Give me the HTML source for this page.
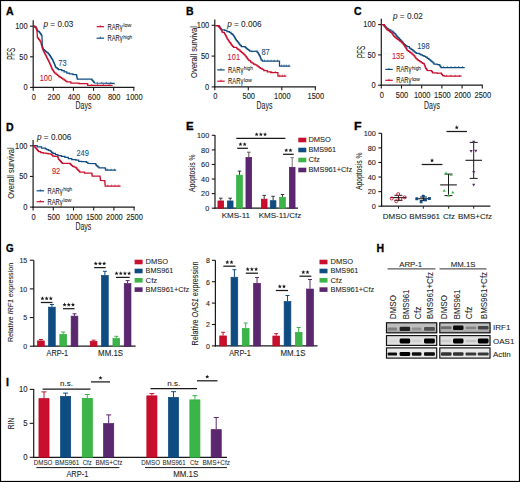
<!DOCTYPE html>
<html><head><meta charset="utf-8"><style>
html,body{margin:0;padding:0;background:#fff;}
svg{display:block;}
text{font-family:"Liberation Sans",sans-serif;}
</style></head><body>
<svg width="520" height="482" viewBox="0 0 520 482">
<rect x="0" y="0" width="520" height="482" fill="#fff"/>
<text x="6.00" y="14.50" font-size="10.5" font-weight="bold" textLength="7.6" lengthAdjust="spacingAndGlyphs" fill="#000" stroke="#000" stroke-width="0.3">A</text>
<line x1="33.20" y1="20.30" x2="33.20" y2="88.00" stroke="#1a1a1a" stroke-width="1.2"/>
<line x1="32.60" y1="87.40" x2="134.40" y2="87.40" stroke="#1a1a1a" stroke-width="1.2"/>
<line x1="30.00" y1="26.20" x2="33.20" y2="26.20" stroke="#1a1a1a" stroke-width="1.1"/>
<text x="27.60" y="28.90" font-size="8.3" text-anchor="end" textLength="12.45" lengthAdjust="spacingAndGlyphs" fill="#1a1a1a" stroke="#1a1a1a" stroke-width="0.1">100</text>
<line x1="30.00" y1="56.80" x2="33.20" y2="56.80" stroke="#1a1a1a" stroke-width="1.1"/>
<text x="27.60" y="59.50" font-size="8.3" text-anchor="end" textLength="8.3" lengthAdjust="spacingAndGlyphs" fill="#1a1a1a" stroke="#1a1a1a" stroke-width="0.1">50</text>
<line x1="30.00" y1="87.40" x2="33.20" y2="87.40" stroke="#1a1a1a" stroke-width="1.1"/>
<text x="27.60" y="90.10" font-size="8.3" text-anchor="end" textLength="4.15" lengthAdjust="spacingAndGlyphs" fill="#1a1a1a" stroke="#1a1a1a" stroke-width="0.1">0</text>
<line x1="33.20" y1="87.40" x2="33.20" y2="90.80" stroke="#1a1a1a" stroke-width="1.1"/>
<text x="33.70" y="99.80" font-size="8.3" text-anchor="middle" textLength="4.15" lengthAdjust="spacingAndGlyphs" fill="#1a1a1a" stroke="#1a1a1a" stroke-width="0.1">0</text>
<line x1="53.32" y1="87.40" x2="53.32" y2="90.80" stroke="#1a1a1a" stroke-width="1.1"/>
<text x="53.82" y="99.80" font-size="8.3" text-anchor="middle" textLength="12.45" lengthAdjust="spacingAndGlyphs" fill="#1a1a1a" stroke="#1a1a1a" stroke-width="0.1">200</text>
<line x1="73.44" y1="87.40" x2="73.44" y2="90.80" stroke="#1a1a1a" stroke-width="1.1"/>
<text x="73.94" y="99.80" font-size="8.3" text-anchor="middle" textLength="12.45" lengthAdjust="spacingAndGlyphs" fill="#1a1a1a" stroke="#1a1a1a" stroke-width="0.1">400</text>
<line x1="93.56" y1="87.40" x2="93.56" y2="90.80" stroke="#1a1a1a" stroke-width="1.1"/>
<text x="94.06" y="99.80" font-size="8.3" text-anchor="middle" textLength="12.45" lengthAdjust="spacingAndGlyphs" fill="#1a1a1a" stroke="#1a1a1a" stroke-width="0.1">600</text>
<line x1="113.68" y1="87.40" x2="113.68" y2="90.80" stroke="#1a1a1a" stroke-width="1.1"/>
<text x="114.18" y="99.80" font-size="8.3" text-anchor="middle" textLength="12.45" lengthAdjust="spacingAndGlyphs" fill="#1a1a1a" stroke="#1a1a1a" stroke-width="0.1">800</text>
<line x1="133.80" y1="87.40" x2="133.80" y2="90.80" stroke="#1a1a1a" stroke-width="1.1"/>
<text x="134.30" y="99.80" font-size="8.3" text-anchor="middle" textLength="16.6" lengthAdjust="spacingAndGlyphs" fill="#1a1a1a" stroke="#1a1a1a" stroke-width="0.1">1000</text>
<text x="83.50" y="108.50" font-size="10" text-anchor="middle" textLength="15.8" lengthAdjust="spacingAndGlyphs" fill="#1a1a1a" stroke="#1a1a1a" stroke-width="0.08">Days</text>
<text x="14.60" y="53.80" font-size="10" text-anchor="middle" textLength="12" lengthAdjust="spacingAndGlyphs" transform="rotate(-90 14.60 53.80)" fill="#1a1a1a" stroke="#1a1a1a" stroke-width="0.08">PFS</text>
<polyline points="33.30,26.20 34.70,26.20 34.70,27.20 36.10,27.20 36.10,28.20 36.63,28.20 36.63,29.23 37.17,29.23 37.17,30.27 37.70,30.27 37.70,31.30 39.30,31.30 39.30,32.40 40.05,32.40 40.05,33.40 40.80,33.40 40.80,34.40 41.35,34.40 41.35,35.45 41.90,35.45 41.90,36.50 41.95,36.50 41.95,37.53 42.00,37.53 42.00,38.57 42.05,38.57 42.05,39.60 42.10,39.60 42.10,40.63 42.15,40.63 42.15,41.67 42.20,41.67 42.20,42.70 42.40,46.90 42.73,46.90 42.73,47.77 43.07,47.77 43.07,48.63 43.40,48.63 43.40,49.50 44.45,49.50 44.45,50.55 45.50,50.55 45.50,51.60 46.80,51.60 46.80,52.60 48.10,52.60 48.10,53.60 48.87,53.60 48.87,54.57 49.63,54.57 49.63,55.53 50.40,55.53 50.40,56.50 50.92,56.50 50.92,57.38 51.45,57.38 51.45,58.25 51.98,58.25 51.98,59.12 52.50,59.12 52.50,60.00 53.00,60.00 53.00,61.12 53.50,61.12 53.50,62.25 54.00,62.25 54.00,63.38 54.50,63.38 54.50,64.50 54.93,64.50 54.93,65.50 55.37,65.50 55.37,66.50 55.80,66.50 55.80,67.50 57.05,67.50 57.05,68.55 58.30,68.55 58.30,69.60 61.80,69.60 61.80,70.70 64.20,70.70 64.20,71.80 66.80,71.80 66.80,73.20 69.50,73.20 69.50,73.80 72.90,73.80 72.90,74.50 76.30,74.50 76.50,74.50 76.50,75.44 76.70,75.44 76.70,76.38 76.90,76.38 76.90,77.32 77.10,77.32 77.10,78.26 77.30,78.26 77.30,79.20 91.10,79.20 91.92,79.20 91.92,80.15 92.75,80.15 92.75,81.10 93.58,81.10 93.58,82.05 94.40,82.05 94.40,83.00 113.30,83.30 114.00,83.30 114.00,84.30" fill="none" stroke="#0e4c82" stroke-width="1.25" stroke-linejoin="miter"/>
<polyline points="33.30,26.20 34.60,26.20 34.60,26.95 35.90,26.95 35.90,27.70 36.17,27.70 36.17,28.60 36.45,28.60 36.45,29.50 36.73,29.50 36.73,30.40 37.00,30.40 37.00,31.30 37.07,31.30 37.07,32.35 37.13,32.35 37.13,33.40 37.20,33.40 37.20,34.45 37.27,34.45 37.27,35.50 37.33,35.50 37.33,36.55 37.40,36.55 37.40,37.60 38.03,37.60 38.03,38.47 38.67,38.47 38.67,39.33 39.30,39.33 39.30,40.20 40.05,40.20 40.05,41.45 40.80,41.45 40.80,42.70 41.07,42.70 41.07,43.67 41.33,43.67 41.33,44.63 41.60,44.63 41.60,45.60 41.87,45.60 41.87,46.57 42.13,46.57 42.13,47.53 42.40,47.53 42.40,48.50 42.90,48.50 42.90,49.75 43.40,49.75 43.40,51.00 43.92,51.00 43.92,52.05 44.45,52.05 44.45,53.10 44.98,53.10 44.98,54.15 45.50,54.15 45.50,55.20 46.02,55.20 46.02,56.23 46.55,56.23 46.55,57.25 47.08,57.25 47.08,58.27 47.60,58.27 47.60,59.30 48.13,59.30 48.13,60.37 48.67,60.37 48.67,61.43 49.20,61.43 49.20,62.50 49.67,62.50 49.67,63.50 50.13,63.50 50.13,64.50 50.60,64.50 50.60,65.50 51.00,65.50 51.00,66.50 51.40,66.50 51.40,67.50 51.80,67.50 51.80,68.50 52.20,68.50 52.20,69.50 52.83,69.50 52.83,70.42 53.45,70.42 53.45,71.35 54.08,71.35 54.08,72.28 54.70,72.28 54.70,73.20 56.07,73.20 56.07,74.30 57.43,74.30 57.43,75.40 58.80,75.40 58.80,76.50 60.13,76.50 60.13,77.40 61.47,77.40 61.47,78.30 62.80,78.30 62.80,79.20 64.13,79.20 64.13,80.10 65.47,80.10 65.47,81.00 66.80,81.00 66.80,81.90 70.90,81.90 70.90,83.00 79.00,83.00 79.00,83.50 87.00,83.50 87.00,83.90 87.70,83.90 87.70,85.30 112.60,85.30" fill="none" stroke="#c8102e" stroke-width="1.25" stroke-linejoin="miter"/>
<line x1="96.60" y1="26.70" x2="104.10" y2="26.70" stroke="#c8102e" stroke-width="1.2"/>
<line x1="100.30" y1="25.20" x2="100.30" y2="27.20" stroke="#c8102e" stroke-width="0.8"/>
<text x="107.50" y="29.60" font-size="8.6" textLength="15.2" lengthAdjust="spacingAndGlyphs" fill="#1a1a1a" stroke="#1a1a1a" stroke-width="0.08">RAR&#947;</text>
<text x="123.20" y="27.20" font-size="5" textLength="8.1" lengthAdjust="spacingAndGlyphs" fill="#1a1a1a" stroke="#1a1a1a" stroke-width="0.05">low</text>
<line x1="96.60" y1="38.20" x2="104.10" y2="38.20" stroke="#0e4c82" stroke-width="1.2"/>
<line x1="100.30" y1="36.70" x2="100.30" y2="38.70" stroke="#0e4c82" stroke-width="0.8"/>
<text x="107.50" y="41.10" font-size="8.6" textLength="15.2" lengthAdjust="spacingAndGlyphs" fill="#1a1a1a" stroke="#1a1a1a" stroke-width="0.08">RAR&#947;</text>
<text x="123.20" y="38.70" font-size="5" textLength="9.1" lengthAdjust="spacingAndGlyphs" fill="#1a1a1a" stroke="#1a1a1a" stroke-width="0.05">high</text>
<text x="43.50" y="27.30" font-size="8.2" fill="#1a1a1a" stroke="#1a1a1a" stroke-width="0.06"><tspan font-style="italic">p</tspan> = 0.03</text>
<text x="58.30" y="65.60" font-size="8.7" textLength="8.3" lengthAdjust="spacingAndGlyphs" fill="#0e4c82" stroke="#0e4c82" stroke-width="0.08">73</text>
<text x="39.70" y="80.50" font-size="8.7" textLength="12.45" lengthAdjust="spacingAndGlyphs" fill="#c8102e" stroke="#c8102e" stroke-width="0.08">100</text>
<text x="186.00" y="14.50" font-size="10.5" font-weight="bold" textLength="7.6" lengthAdjust="spacingAndGlyphs" fill="#000" stroke="#000" stroke-width="0.3">B</text>
<line x1="214.80" y1="19.50" x2="214.80" y2="87.50" stroke="#1a1a1a" stroke-width="1.2"/>
<line x1="214.20" y1="86.90" x2="315.90" y2="86.90" stroke="#1a1a1a" stroke-width="1.2"/>
<line x1="211.60" y1="25.30" x2="214.80" y2="25.30" stroke="#1a1a1a" stroke-width="1.1"/>
<text x="209.20" y="28.00" font-size="8.3" text-anchor="end" textLength="12.45" lengthAdjust="spacingAndGlyphs" fill="#1a1a1a" stroke="#1a1a1a" stroke-width="0.1">100</text>
<line x1="211.60" y1="56.10" x2="214.80" y2="56.10" stroke="#1a1a1a" stroke-width="1.1"/>
<text x="209.20" y="58.80" font-size="8.3" text-anchor="end" textLength="8.3" lengthAdjust="spacingAndGlyphs" fill="#1a1a1a" stroke="#1a1a1a" stroke-width="0.1">50</text>
<line x1="211.60" y1="86.90" x2="214.80" y2="86.90" stroke="#1a1a1a" stroke-width="1.1"/>
<text x="209.20" y="89.60" font-size="8.3" text-anchor="end" textLength="4.15" lengthAdjust="spacingAndGlyphs" fill="#1a1a1a" stroke="#1a1a1a" stroke-width="0.1">0</text>
<line x1="214.80" y1="86.90" x2="214.80" y2="90.30" stroke="#1a1a1a" stroke-width="1.1"/>
<text x="215.30" y="99.30" font-size="8.3" text-anchor="middle" textLength="4.15" lengthAdjust="spacingAndGlyphs" fill="#1a1a1a" stroke="#1a1a1a" stroke-width="0.1">0</text>
<line x1="248.30" y1="86.90" x2="248.30" y2="90.30" stroke="#1a1a1a" stroke-width="1.1"/>
<text x="248.80" y="99.30" font-size="8.3" text-anchor="middle" textLength="12.45" lengthAdjust="spacingAndGlyphs" fill="#1a1a1a" stroke="#1a1a1a" stroke-width="0.1">500</text>
<line x1="281.80" y1="86.90" x2="281.80" y2="90.30" stroke="#1a1a1a" stroke-width="1.1"/>
<text x="282.30" y="99.30" font-size="8.3" text-anchor="middle" textLength="16.6" lengthAdjust="spacingAndGlyphs" fill="#1a1a1a" stroke="#1a1a1a" stroke-width="0.1">1000</text>
<line x1="315.30" y1="86.90" x2="315.30" y2="90.30" stroke="#1a1a1a" stroke-width="1.1"/>
<text x="315.80" y="99.30" font-size="8.3" text-anchor="middle" textLength="16.6" lengthAdjust="spacingAndGlyphs" fill="#1a1a1a" stroke="#1a1a1a" stroke-width="0.1">1500</text>
<text x="264.50" y="108.50" font-size="10" text-anchor="middle" textLength="15.8" lengthAdjust="spacingAndGlyphs" fill="#1a1a1a" stroke="#1a1a1a" stroke-width="0.08">Days</text>
<text x="197.30" y="52.00" font-size="9.5" text-anchor="middle" textLength="52" lengthAdjust="spacingAndGlyphs" transform="rotate(-90 197.30 52.00)" fill="#1a1a1a" stroke="#1a1a1a" stroke-width="0.08">Overall survival</text>
<polyline points="215.20,25.50 218.60,25.50 219.13,25.50 219.13,26.40 219.67,26.40 219.67,27.30 220.20,27.30 220.20,28.20 220.85,28.20 220.85,29.05 221.50,29.05 221.50,29.90 224.80,29.90 224.80,30.30 226.90,30.30 226.90,31.50 229.40,31.50 229.40,32.40 231.00,32.40 231.00,33.60 232.05,33.60 232.05,34.45 233.10,34.45 233.10,35.30 233.90,35.30 233.90,36.55 234.70,36.55 234.70,37.80 235.27,37.80 235.27,38.77 235.83,38.77 235.83,39.73 236.40,39.73 236.40,40.70 237.25,40.70 237.25,41.70 238.10,41.70 238.10,42.70 238.90,42.70 238.90,43.75 239.70,43.75 239.70,44.80 240.55,44.80 240.55,45.65 241.40,45.65 241.40,46.50 243.50,46.50 245.10,46.50 245.10,47.30 246.15,47.30 246.15,48.35 247.20,48.35 247.20,49.40 248.45,49.40 248.45,50.20 249.70,50.20 249.70,51.00 251.80,51.00 251.80,51.50 256.10,51.20 257.15,51.20 257.15,52.45 258.20,52.45 258.20,53.70 258.80,53.70 258.80,54.70 259.40,54.70 259.40,55.70 260.00,55.70 260.00,56.70 260.40,56.70 260.40,57.83 260.80,57.83 260.80,58.97 261.20,58.97 261.20,60.10 262.50,60.10 262.50,61.10 279.50,61.10 279.50,66.00 290.20,66.00" fill="none" stroke="#0e4c82" stroke-width="1.25" stroke-linejoin="miter"/>
<polyline points="215.20,25.50 217.30,25.50 218.15,25.50 218.15,26.45 219.00,26.45 219.00,27.40 220.05,27.40 220.05,28.65 221.10,28.65 221.10,29.90 221.70,29.90 221.70,31.15 222.30,31.15 222.30,32.40 224.40,32.40 224.40,33.60 225.00,33.60 225.00,34.65 225.60,34.65 225.60,35.70 226.17,35.70 226.17,36.80 226.73,36.80 226.73,37.90 227.30,37.90 227.30,39.00 227.93,39.00 227.93,39.92 228.55,39.92 228.55,40.85 229.18,40.85 229.18,41.78 229.80,41.78 229.80,42.70 230.60,42.70 230.60,43.95 231.40,43.95 231.40,45.20 232.45,45.20 232.45,46.25 233.50,46.25 233.50,47.30 236.80,47.30 236.80,48.60 237.85,48.60 237.85,49.40 238.90,49.40 238.90,50.20 240.15,50.20 240.15,51.25 241.40,51.25 241.40,52.30 242.45,52.30 242.45,53.15 243.50,53.15 243.50,54.00 244.33,54.00 244.33,54.97 245.17,54.97 245.17,55.93 246.00,55.93 246.00,56.90 246.72,56.90 246.72,57.83 247.45,57.83 247.45,58.75 248.18,58.75 248.18,59.67 248.90,59.67 248.90,60.60 250.50,60.60 250.50,62.00 252.00,62.00 252.00,63.00 253.50,63.00 253.50,64.00 255.20,64.00 255.20,64.90 256.90,64.90 256.90,65.80 258.07,65.80 258.07,66.67 259.23,66.67 259.23,67.53 260.40,67.53 260.40,68.40 262.10,68.40 262.10,69.45 263.80,69.45 263.80,70.50 267.30,70.50 267.30,71.80 270.80,71.80 270.80,72.50 277.90,72.50 277.90,76.00 286.30,76.00" fill="none" stroke="#c8102e" stroke-width="1.25" stroke-linejoin="miter"/>
<line x1="217.20" y1="69.90" x2="224.70" y2="69.90" stroke="#0e4c82" stroke-width="1.2"/>
<line x1="220.90" y1="68.40" x2="220.90" y2="70.40" stroke="#0e4c82" stroke-width="0.8"/>
<text x="228.10" y="72.80" font-size="8.6" textLength="15.2" lengthAdjust="spacingAndGlyphs" fill="#1a1a1a" stroke="#1a1a1a" stroke-width="0.08">RAR&#947;</text>
<text x="243.80" y="70.40" font-size="5" textLength="9.1" lengthAdjust="spacingAndGlyphs" fill="#1a1a1a" stroke="#1a1a1a" stroke-width="0.05">high</text>
<line x1="217.20" y1="81.20" x2="224.70" y2="81.20" stroke="#c8102e" stroke-width="1.2"/>
<line x1="220.90" y1="79.70" x2="220.90" y2="81.70" stroke="#c8102e" stroke-width="0.8"/>
<text x="228.10" y="84.10" font-size="8.6" textLength="15.2" lengthAdjust="spacingAndGlyphs" fill="#1a1a1a" stroke="#1a1a1a" stroke-width="0.08">RAR&#947;</text>
<text x="243.80" y="81.70" font-size="5" textLength="8.1" lengthAdjust="spacingAndGlyphs" fill="#1a1a1a" stroke="#1a1a1a" stroke-width="0.05">low</text>
<text x="227.20" y="27.00" font-size="8.2" fill="#1a1a1a" stroke="#1a1a1a" stroke-width="0.06"><tspan font-style="italic">p</tspan> = 0.006</text>
<text x="261.40" y="55.40" font-size="8.7" textLength="8.3" lengthAdjust="spacingAndGlyphs" fill="#0e4c82" stroke="#0e4c82" stroke-width="0.08">87</text>
<text x="227.60" y="60.10" font-size="8.7" textLength="12.45" lengthAdjust="spacingAndGlyphs" fill="#c8102e" stroke="#c8102e" stroke-width="0.08">101</text>
<text x="354.00" y="14.50" font-size="10.5" font-weight="bold" textLength="7.6" lengthAdjust="spacingAndGlyphs" fill="#000" stroke="#000" stroke-width="0.3">C</text>
<line x1="381.30" y1="18.80" x2="381.30" y2="85.80" stroke="#1a1a1a" stroke-width="1.2"/>
<line x1="380.70" y1="85.20" x2="482.90" y2="85.20" stroke="#1a1a1a" stroke-width="1.2"/>
<line x1="378.10" y1="24.60" x2="381.30" y2="24.60" stroke="#1a1a1a" stroke-width="1.1"/>
<text x="375.70" y="27.30" font-size="8.3" text-anchor="end" textLength="12.45" lengthAdjust="spacingAndGlyphs" fill="#1a1a1a" stroke="#1a1a1a" stroke-width="0.1">100</text>
<line x1="378.10" y1="54.90" x2="381.30" y2="54.90" stroke="#1a1a1a" stroke-width="1.1"/>
<text x="375.70" y="57.60" font-size="8.3" text-anchor="end" textLength="8.3" lengthAdjust="spacingAndGlyphs" fill="#1a1a1a" stroke="#1a1a1a" stroke-width="0.1">50</text>
<line x1="378.10" y1="85.20" x2="381.30" y2="85.20" stroke="#1a1a1a" stroke-width="1.1"/>
<text x="375.70" y="87.90" font-size="8.3" text-anchor="end" textLength="4.15" lengthAdjust="spacingAndGlyphs" fill="#1a1a1a" stroke="#1a1a1a" stroke-width="0.1">0</text>
<line x1="381.30" y1="85.20" x2="381.30" y2="88.60" stroke="#1a1a1a" stroke-width="1.1"/>
<text x="381.80" y="97.60" font-size="8.3" text-anchor="middle" textLength="4.15" lengthAdjust="spacingAndGlyphs" fill="#1a1a1a" stroke="#1a1a1a" stroke-width="0.1">0</text>
<line x1="401.50" y1="85.20" x2="401.50" y2="88.60" stroke="#1a1a1a" stroke-width="1.1"/>
<text x="402.00" y="97.60" font-size="8.3" text-anchor="middle" textLength="12.45" lengthAdjust="spacingAndGlyphs" fill="#1a1a1a" stroke="#1a1a1a" stroke-width="0.1">500</text>
<line x1="421.70" y1="85.20" x2="421.70" y2="88.60" stroke="#1a1a1a" stroke-width="1.1"/>
<text x="422.20" y="97.60" font-size="8.3" text-anchor="middle" textLength="16.6" lengthAdjust="spacingAndGlyphs" fill="#1a1a1a" stroke="#1a1a1a" stroke-width="0.1">1000</text>
<line x1="441.90" y1="85.20" x2="441.90" y2="88.60" stroke="#1a1a1a" stroke-width="1.1"/>
<text x="442.40" y="97.60" font-size="8.3" text-anchor="middle" textLength="16.6" lengthAdjust="spacingAndGlyphs" fill="#1a1a1a" stroke="#1a1a1a" stroke-width="0.1">1500</text>
<line x1="462.10" y1="85.20" x2="462.10" y2="88.60" stroke="#1a1a1a" stroke-width="1.1"/>
<text x="462.60" y="97.60" font-size="8.3" text-anchor="middle" textLength="16.6" lengthAdjust="spacingAndGlyphs" fill="#1a1a1a" stroke="#1a1a1a" stroke-width="0.1">2000</text>
<line x1="482.30" y1="85.20" x2="482.30" y2="88.60" stroke="#1a1a1a" stroke-width="1.1"/>
<text x="482.80" y="97.60" font-size="8.3" text-anchor="middle" textLength="16.6" lengthAdjust="spacingAndGlyphs" fill="#1a1a1a" stroke="#1a1a1a" stroke-width="0.1">2500</text>
<text x="432.00" y="108.50" font-size="10" text-anchor="middle" textLength="15.8" lengthAdjust="spacingAndGlyphs" fill="#1a1a1a" stroke="#1a1a1a" stroke-width="0.08">Days</text>
<text x="365.00" y="51.90" font-size="10" text-anchor="middle" textLength="12" lengthAdjust="spacingAndGlyphs" transform="rotate(-90 365.00 51.90)" fill="#1a1a1a" stroke="#1a1a1a" stroke-width="0.08">PFS</text>
<polyline points="381.70,24.60 383.90,24.60 383.90,25.90 385.20,25.90 385.20,27.00 386.50,27.00 386.50,28.10 387.60,28.10 387.60,28.95 388.70,28.95 388.70,29.80 390.80,29.80 390.80,31.10 393.00,31.10 393.00,32.40 394.05,32.40 394.05,33.25 395.10,33.25 395.10,34.10 395.83,34.10 395.83,35.10 396.57,35.10 396.57,36.10 397.30,36.10 397.30,37.10 398.40,37.10 398.40,38.20 399.50,38.20 399.50,39.30 400.37,39.30 400.37,40.17 401.23,40.17 401.23,41.03 402.10,41.03 402.10,41.90 402.80,41.90 402.80,42.77 403.50,42.77 403.50,43.63 404.20,43.63 404.20,44.50 405.50,44.50 405.50,45.60 406.80,45.60 406.80,46.70 409.40,46.70 409.40,48.00 410.50,48.00 410.50,48.85 411.60,48.85 411.60,49.70 412.90,49.70 412.90,50.75 414.20,50.75 414.20,51.80 415.25,51.80 415.25,52.55 416.30,52.55 416.30,53.30 419.20,53.30 419.20,54.00 420.80,54.00 420.80,54.80 422.40,54.80 422.40,55.60 424.00,55.60 424.00,56.40 425.60,56.40 425.60,57.20 427.20,57.20 427.20,58.25 428.80,58.25 428.80,59.30 429.83,59.30 429.83,60.17 430.87,60.17 430.87,61.03 431.90,61.03 431.90,61.90 432.95,61.90 432.95,62.95 434.00,62.95 434.00,64.00 437.20,64.00 437.20,64.60 439.30,64.60 439.30,65.10 440.10,65.10 440.10,66.35 440.90,66.35 440.90,67.60 464.70,67.60" fill="none" stroke="#0e4c82" stroke-width="1.25" stroke-linejoin="miter"/>
<polyline points="381.70,24.60 384.30,24.60 384.30,25.90 384.95,25.90 384.95,26.88 385.60,26.88 385.60,27.85 386.25,27.85 386.25,28.82 386.90,28.82 386.90,29.80 388.20,29.80 388.20,30.65 389.50,30.65 389.50,31.50 390.60,31.50 390.60,32.35 391.70,32.35 391.70,33.20 392.40,33.20 392.40,34.23 393.10,34.23 393.10,35.27 393.80,35.27 393.80,36.30 394.90,36.30 394.90,37.35 396.00,37.35 396.00,38.40 397.30,38.40 397.30,39.30 398.60,39.30 398.60,40.20 399.70,40.20 399.70,41.05 400.80,41.05 400.80,41.90 401.85,41.90 401.85,42.75 402.90,42.75 402.90,43.60 403.45,43.60 403.45,44.48 404.00,44.48 404.00,45.35 404.55,45.35 404.55,46.23 405.10,46.23 405.10,47.10 405.80,47.10 405.80,48.23 406.50,48.23 406.50,49.37 407.20,49.37 407.20,50.50 408.50,50.50 408.50,51.40 409.80,51.40 409.80,52.30 410.90,52.30 410.90,53.15 412.00,53.15 412.00,54.00 413.10,54.00 413.10,55.10 414.20,55.10 414.20,56.20 415.05,56.20 415.05,57.40 415.90,57.40 415.90,58.60 417.05,58.60 417.05,59.55 418.20,59.55 418.20,60.50 419.75,60.50 419.75,61.50 421.30,61.50 421.30,62.50 422.65,62.50 422.65,63.25 424.00,63.25 424.00,64.00 424.40,64.00 424.40,65.08 424.80,65.08 424.80,66.15 425.20,66.15 425.20,67.22 425.60,67.22 425.60,68.30 426.40,68.30 426.40,69.35 427.20,69.35 427.20,70.40 430.90,70.60 431.70,70.60 431.70,71.70 432.50,71.70 432.50,72.80 437.20,72.80 437.20,73.40 440.40,73.20 441.45,73.20 441.45,74.45 442.50,74.45 442.50,75.70 444.10,75.70 444.10,76.20 461.60,76.20" fill="none" stroke="#c8102e" stroke-width="1.25" stroke-linejoin="miter"/>
<line x1="385.30" y1="69.40" x2="392.80" y2="69.40" stroke="#0e4c82" stroke-width="1.2"/>
<line x1="389.00" y1="67.90" x2="389.00" y2="69.90" stroke="#0e4c82" stroke-width="0.8"/>
<text x="396.20" y="72.30" font-size="8.6" textLength="15.2" lengthAdjust="spacingAndGlyphs" fill="#1a1a1a" stroke="#1a1a1a" stroke-width="0.08">RAR&#947;</text>
<text x="411.90" y="69.90" font-size="5" textLength="9.1" lengthAdjust="spacingAndGlyphs" fill="#1a1a1a" stroke="#1a1a1a" stroke-width="0.05">high</text>
<line x1="385.30" y1="80.30" x2="392.80" y2="80.30" stroke="#c8102e" stroke-width="1.2"/>
<line x1="389.00" y1="78.80" x2="389.00" y2="80.80" stroke="#c8102e" stroke-width="0.8"/>
<text x="396.20" y="83.20" font-size="8.6" textLength="15.2" lengthAdjust="spacingAndGlyphs" fill="#1a1a1a" stroke="#1a1a1a" stroke-width="0.08">RAR&#947;</text>
<text x="411.90" y="80.80" font-size="5" textLength="8.1" lengthAdjust="spacingAndGlyphs" fill="#1a1a1a" stroke="#1a1a1a" stroke-width="0.05">low</text>
<text x="393.00" y="18.80" font-size="8.2" fill="#1a1a1a" stroke="#1a1a1a" stroke-width="0.06"><tspan font-style="italic">p</tspan> = 0.02</text>
<text x="417.20" y="48.80" font-size="8.7" textLength="12.45" lengthAdjust="spacingAndGlyphs" fill="#0e4c82" stroke="#0e4c82" stroke-width="0.08">198</text>
<text x="391.90" y="59.20" font-size="8.7" textLength="12.45" lengthAdjust="spacingAndGlyphs" fill="#c8102e" stroke="#c8102e" stroke-width="0.08">135</text>
<text x="6.00" y="130.50" font-size="10.5" font-weight="bold" textLength="7.6" lengthAdjust="spacingAndGlyphs" fill="#000" stroke="#000" stroke-width="0.3">D</text>
<line x1="33.10" y1="140.00" x2="33.10" y2="207.70" stroke="#1a1a1a" stroke-width="1.2"/>
<line x1="32.50" y1="207.10" x2="134.70" y2="207.10" stroke="#1a1a1a" stroke-width="1.2"/>
<line x1="29.90" y1="145.80" x2="33.10" y2="145.80" stroke="#1a1a1a" stroke-width="1.1"/>
<text x="27.50" y="148.50" font-size="8.3" text-anchor="end" textLength="12.45" lengthAdjust="spacingAndGlyphs" fill="#1a1a1a" stroke="#1a1a1a" stroke-width="0.1">100</text>
<line x1="29.90" y1="176.45" x2="33.10" y2="176.45" stroke="#1a1a1a" stroke-width="1.1"/>
<text x="27.50" y="179.15" font-size="8.3" text-anchor="end" textLength="8.3" lengthAdjust="spacingAndGlyphs" fill="#1a1a1a" stroke="#1a1a1a" stroke-width="0.1">50</text>
<line x1="29.90" y1="207.10" x2="33.10" y2="207.10" stroke="#1a1a1a" stroke-width="1.1"/>
<text x="27.50" y="209.80" font-size="8.3" text-anchor="end" textLength="4.15" lengthAdjust="spacingAndGlyphs" fill="#1a1a1a" stroke="#1a1a1a" stroke-width="0.1">0</text>
<line x1="33.10" y1="207.10" x2="33.10" y2="210.50" stroke="#1a1a1a" stroke-width="1.1"/>
<text x="33.60" y="219.50" font-size="8.3" text-anchor="middle" textLength="4.15" lengthAdjust="spacingAndGlyphs" fill="#1a1a1a" stroke="#1a1a1a" stroke-width="0.1">0</text>
<line x1="53.30" y1="207.10" x2="53.30" y2="210.50" stroke="#1a1a1a" stroke-width="1.1"/>
<text x="53.80" y="219.50" font-size="8.3" text-anchor="middle" textLength="12.45" lengthAdjust="spacingAndGlyphs" fill="#1a1a1a" stroke="#1a1a1a" stroke-width="0.1">500</text>
<line x1="73.50" y1="207.10" x2="73.50" y2="210.50" stroke="#1a1a1a" stroke-width="1.1"/>
<text x="74.00" y="219.50" font-size="8.3" text-anchor="middle" textLength="16.6" lengthAdjust="spacingAndGlyphs" fill="#1a1a1a" stroke="#1a1a1a" stroke-width="0.1">1000</text>
<line x1="93.70" y1="207.10" x2="93.70" y2="210.50" stroke="#1a1a1a" stroke-width="1.1"/>
<text x="94.20" y="219.50" font-size="8.3" text-anchor="middle" textLength="16.6" lengthAdjust="spacingAndGlyphs" fill="#1a1a1a" stroke="#1a1a1a" stroke-width="0.1">1500</text>
<line x1="113.90" y1="207.10" x2="113.90" y2="210.50" stroke="#1a1a1a" stroke-width="1.1"/>
<text x="114.40" y="219.50" font-size="8.3" text-anchor="middle" textLength="16.6" lengthAdjust="spacingAndGlyphs" fill="#1a1a1a" stroke="#1a1a1a" stroke-width="0.1">2000</text>
<line x1="134.10" y1="207.10" x2="134.10" y2="210.50" stroke="#1a1a1a" stroke-width="1.1"/>
<text x="134.60" y="219.50" font-size="8.3" text-anchor="middle" textLength="16.6" lengthAdjust="spacingAndGlyphs" fill="#1a1a1a" stroke="#1a1a1a" stroke-width="0.1">2500</text>
<text x="83.40" y="229.80" font-size="10" text-anchor="middle" textLength="15.8" lengthAdjust="spacingAndGlyphs" fill="#1a1a1a" stroke="#1a1a1a" stroke-width="0.08">Days</text>
<text x="13.75" y="173.10" font-size="9.5" text-anchor="middle" textLength="51.3" lengthAdjust="spacingAndGlyphs" transform="rotate(-90 13.75 173.10)" fill="#1a1a1a" stroke="#1a1a1a" stroke-width="0.08">Overall survival</text>
<polyline points="33.30,145.60 37.20,145.60 37.20,146.90 41.50,146.90 41.50,148.20 44.10,148.00 45.40,148.00 45.40,148.75 46.70,148.75 46.70,149.50 48.45,149.50 48.45,150.35 50.20,150.35 50.20,151.20 51.50,151.20 51.50,152.30 52.80,152.30 52.80,153.40 55.40,153.40 55.40,154.70 58.00,154.70 58.00,155.60 61.40,155.60 61.40,156.40 64.90,156.40 64.90,157.30 68.30,157.30 68.30,158.60 71.80,158.60 71.80,159.60 75.80,159.60 75.80,160.10 78.70,160.10 78.70,161.30 81.60,161.30 81.60,161.70 86.40,161.70 86.40,162.30 87.90,162.30 87.90,163.50 95.10,163.70 95.80,163.70 95.80,164.80 96.50,164.80 96.50,165.90 97.70,165.90 97.70,166.85 98.90,166.85 98.90,167.80 104.70,167.80 105.20,167.80 105.20,168.95 105.70,168.95 105.70,170.10 116.20,170.10" fill="none" stroke="#0e4c82" stroke-width="1.25" stroke-linejoin="miter"/>
<polyline points="33.30,145.60 34.17,145.60 34.17,146.63 35.03,146.63 35.03,147.67 35.90,147.67 35.90,148.70 36.77,148.70 36.77,149.70 37.63,149.70 37.63,150.70 38.50,150.70 38.50,151.70 40.70,151.70 40.70,152.50 43.20,152.50 43.20,153.00 45.80,153.00 45.80,153.40 48.00,153.40 48.00,153.80 51.00,153.80 51.00,154.30 51.90,154.30 51.90,155.15 52.80,155.15 52.80,156.00 54.50,156.00 54.50,156.40 57.50,156.40 57.80,156.40 57.80,157.27 58.10,157.27 58.10,158.13 58.40,158.13 58.40,159.00 59.10,159.00 59.10,159.87 59.80,159.87 59.80,160.73 60.50,160.73 60.50,161.60 61.40,161.60 61.40,162.50 62.30,162.50 62.30,163.40 69.20,163.40 70.27,163.40 70.27,164.37 71.33,164.37 71.33,165.33 72.40,165.33 72.40,166.30 74.10,166.30 74.10,167.05 75.80,167.05 75.80,167.80 76.80,167.80 76.80,169.00 77.80,169.00 77.80,170.20 78.75,170.20 78.75,171.15 79.70,171.15 79.70,172.10 82.60,172.10 84.50,172.10 84.50,173.10 91.70,173.10 91.87,173.10 91.87,174.07 92.03,174.07 92.03,175.03 92.20,175.03 92.20,176.00 99.90,176.00 100.03,176.00 100.03,177.07 100.15,177.07 100.15,178.15 100.28,178.15 100.28,179.23 100.40,179.23 100.40,180.30 104.70,180.60 104.78,180.60 104.78,181.52 104.87,181.52 104.87,182.43 104.95,182.43 104.95,183.35 105.03,183.35 105.03,184.27 105.12,184.27 105.12,185.18 105.20,185.18 105.20,186.10 120.60,186.10" fill="none" stroke="#c8102e" stroke-width="1.25" stroke-linejoin="miter"/>
<line x1="36.60" y1="190.80" x2="44.10" y2="190.80" stroke="#0e4c82" stroke-width="1.2"/>
<line x1="40.30" y1="189.30" x2="40.30" y2="191.30" stroke="#0e4c82" stroke-width="0.8"/>
<text x="47.50" y="193.70" font-size="8.6" textLength="15.2" lengthAdjust="spacingAndGlyphs" fill="#1a1a1a" stroke="#1a1a1a" stroke-width="0.08">RAR&#947;</text>
<text x="63.20" y="191.30" font-size="5" textLength="9.1" lengthAdjust="spacingAndGlyphs" fill="#1a1a1a" stroke="#1a1a1a" stroke-width="0.05">high</text>
<line x1="36.60" y1="201.70" x2="44.10" y2="201.70" stroke="#c8102e" stroke-width="1.2"/>
<line x1="40.30" y1="200.20" x2="40.30" y2="202.20" stroke="#c8102e" stroke-width="0.8"/>
<text x="47.50" y="204.60" font-size="8.6" textLength="15.2" lengthAdjust="spacingAndGlyphs" fill="#1a1a1a" stroke="#1a1a1a" stroke-width="0.08">RAR&#947;</text>
<text x="63.20" y="202.20" font-size="5" textLength="8.1" lengthAdjust="spacingAndGlyphs" fill="#1a1a1a" stroke="#1a1a1a" stroke-width="0.05">low</text>
<text x="37.00" y="140.00" font-size="8.2" fill="#1a1a1a" stroke="#1a1a1a" stroke-width="0.06"><tspan font-style="italic">p</tspan> = 0.006</text>
<text x="76.40" y="156.30" font-size="8.7" textLength="12.45" lengthAdjust="spacingAndGlyphs" fill="#0e4c82" stroke="#0e4c82" stroke-width="0.08">249</text>
<text x="51.90" y="173.60" font-size="8.7" textLength="8.3" lengthAdjust="spacingAndGlyphs" fill="#c8102e" stroke="#c8102e" stroke-width="0.08">92</text>
<line x1="97.25" y1="81.90" x2="97.25" y2="83.50" stroke="#0e4c82" stroke-width="0.7"/>
<line x1="101.75" y1="81.90" x2="101.75" y2="83.50" stroke="#0e4c82" stroke-width="0.7"/>
<line x1="106.25" y1="81.90" x2="106.25" y2="83.50" stroke="#0e4c82" stroke-width="0.7"/>
<line x1="110.75" y1="81.90" x2="110.75" y2="83.50" stroke="#0e4c82" stroke-width="0.7"/>
<line x1="91.88" y1="83.90" x2="91.88" y2="85.50" stroke="#c8102e" stroke-width="0.7"/>
<line x1="97.62" y1="83.90" x2="97.62" y2="85.50" stroke="#c8102e" stroke-width="0.7"/>
<line x1="103.38" y1="83.90" x2="103.38" y2="85.50" stroke="#c8102e" stroke-width="0.7"/>
<line x1="109.12" y1="83.90" x2="109.12" y2="85.50" stroke="#c8102e" stroke-width="0.7"/>
<line x1="264.60" y1="59.70" x2="264.60" y2="61.30" stroke="#0e4c82" stroke-width="0.7"/>
<line x1="267.80" y1="59.70" x2="267.80" y2="61.30" stroke="#0e4c82" stroke-width="0.7"/>
<line x1="271.00" y1="59.70" x2="271.00" y2="61.30" stroke="#0e4c82" stroke-width="0.7"/>
<line x1="274.20" y1="59.70" x2="274.20" y2="61.30" stroke="#0e4c82" stroke-width="0.7"/>
<line x1="277.40" y1="59.70" x2="277.40" y2="61.30" stroke="#0e4c82" stroke-width="0.7"/>
<line x1="281.69" y1="64.60" x2="281.69" y2="66.20" stroke="#0e4c82" stroke-width="0.7"/>
<line x1="284.06" y1="64.60" x2="284.06" y2="66.20" stroke="#0e4c82" stroke-width="0.7"/>
<line x1="286.44" y1="64.60" x2="286.44" y2="66.20" stroke="#0e4c82" stroke-width="0.7"/>
<line x1="288.81" y1="64.60" x2="288.81" y2="66.20" stroke="#0e4c82" stroke-width="0.7"/>
<line x1="271.75" y1="71.10" x2="271.75" y2="72.70" stroke="#c8102e" stroke-width="0.7"/>
<line x1="275.25" y1="71.10" x2="275.25" y2="72.70" stroke="#c8102e" stroke-width="0.7"/>
<line x1="279.75" y1="74.60" x2="279.75" y2="76.20" stroke="#c8102e" stroke-width="0.7"/>
<line x1="282.25" y1="74.60" x2="282.25" y2="76.20" stroke="#c8102e" stroke-width="0.7"/>
<line x1="284.75" y1="74.60" x2="284.75" y2="76.20" stroke="#c8102e" stroke-width="0.7"/>
<line x1="443.42" y1="66.20" x2="443.42" y2="67.80" stroke="#0e4c82" stroke-width="0.7"/>
<line x1="447.25" y1="66.20" x2="447.25" y2="67.80" stroke="#0e4c82" stroke-width="0.7"/>
<line x1="451.08" y1="66.20" x2="451.08" y2="67.80" stroke="#0e4c82" stroke-width="0.7"/>
<line x1="454.92" y1="66.20" x2="454.92" y2="67.80" stroke="#0e4c82" stroke-width="0.7"/>
<line x1="458.75" y1="66.20" x2="458.75" y2="67.80" stroke="#0e4c82" stroke-width="0.7"/>
<line x1="462.58" y1="66.20" x2="462.58" y2="67.80" stroke="#0e4c82" stroke-width="0.7"/>
<line x1="446.62" y1="74.80" x2="446.62" y2="76.40" stroke="#c8102e" stroke-width="0.7"/>
<line x1="450.88" y1="74.80" x2="450.88" y2="76.40" stroke="#c8102e" stroke-width="0.7"/>
<line x1="455.12" y1="74.80" x2="455.12" y2="76.40" stroke="#c8102e" stroke-width="0.7"/>
<line x1="459.38" y1="74.80" x2="459.38" y2="76.40" stroke="#c8102e" stroke-width="0.7"/>
<line x1="107.67" y1="168.70" x2="107.67" y2="170.30" stroke="#0e4c82" stroke-width="0.7"/>
<line x1="111.00" y1="168.70" x2="111.00" y2="170.30" stroke="#0e4c82" stroke-width="0.7"/>
<line x1="114.33" y1="168.70" x2="114.33" y2="170.30" stroke="#0e4c82" stroke-width="0.7"/>
<line x1="107.81" y1="184.70" x2="107.81" y2="186.30" stroke="#c8102e" stroke-width="0.7"/>
<line x1="111.44" y1="184.70" x2="111.44" y2="186.30" stroke="#c8102e" stroke-width="0.7"/>
<line x1="115.06" y1="184.70" x2="115.06" y2="186.30" stroke="#c8102e" stroke-width="0.7"/>
<line x1="118.69" y1="184.70" x2="118.69" y2="186.30" stroke="#c8102e" stroke-width="0.7"/>
<text x="186.00" y="130.00" font-size="10.5" font-weight="bold" textLength="7.6" lengthAdjust="spacingAndGlyphs" fill="#000" stroke="#000" stroke-width="0.3">E</text>
<line x1="215.00" y1="135.00" x2="215.00" y2="208.80" stroke="#1a1a1a" stroke-width="1.2"/>
<line x1="214.40" y1="208.20" x2="298.00" y2="208.20" stroke="#1a1a1a" stroke-width="1.2"/>
<line x1="211.80" y1="208.20" x2="215.00" y2="208.20" stroke="#1a1a1a" stroke-width="1.1"/>
<text x="209.20" y="211.00" font-size="8" text-anchor="end" textLength="4.05" lengthAdjust="spacingAndGlyphs" fill="#1a1a1a" stroke="#1a1a1a" stroke-width="0.1">0</text>
<line x1="211.80" y1="193.62" x2="215.00" y2="193.62" stroke="#1a1a1a" stroke-width="1.1"/>
<text x="209.20" y="196.42" font-size="8" text-anchor="end" textLength="8.1" lengthAdjust="spacingAndGlyphs" fill="#1a1a1a" stroke="#1a1a1a" stroke-width="0.1">20</text>
<line x1="211.80" y1="179.04" x2="215.00" y2="179.04" stroke="#1a1a1a" stroke-width="1.1"/>
<text x="209.20" y="181.84" font-size="8" text-anchor="end" textLength="8.1" lengthAdjust="spacingAndGlyphs" fill="#1a1a1a" stroke="#1a1a1a" stroke-width="0.1">40</text>
<line x1="211.80" y1="164.46" x2="215.00" y2="164.46" stroke="#1a1a1a" stroke-width="1.1"/>
<text x="209.20" y="167.26" font-size="8" text-anchor="end" textLength="8.1" lengthAdjust="spacingAndGlyphs" fill="#1a1a1a" stroke="#1a1a1a" stroke-width="0.1">60</text>
<line x1="211.80" y1="149.88" x2="215.00" y2="149.88" stroke="#1a1a1a" stroke-width="1.1"/>
<text x="209.20" y="152.68" font-size="8" text-anchor="end" textLength="8.1" lengthAdjust="spacingAndGlyphs" fill="#1a1a1a" stroke="#1a1a1a" stroke-width="0.1">80</text>
<line x1="211.80" y1="135.30" x2="215.00" y2="135.30" stroke="#1a1a1a" stroke-width="1.1"/>
<text x="209.20" y="138.10" font-size="8" text-anchor="end" textLength="12.15" lengthAdjust="spacingAndGlyphs" fill="#1a1a1a" stroke="#1a1a1a" stroke-width="0.1">100</text>
<text x="195.20" y="173.30" font-size="9.2" text-anchor="middle" textLength="37.5" lengthAdjust="spacingAndGlyphs" transform="rotate(-90 195.20 173.30)" fill="#1a1a1a" stroke="#1a1a1a" stroke-width="0.08">Apoptosis %</text>
<rect x="217.95" y="200.95" width="5.70" height="7.25" fill="#c8102e" stroke="#bd0020" stroke-width="0.7"/>
<line x1="220.80" y1="198.20" x2="220.80" y2="200.60" stroke="#333" stroke-width="1"/>
<line x1="219.05" y1="198.20" x2="222.55" y2="198.20" stroke="#333" stroke-width="1"/>
<rect x="227.35" y="200.95" width="5.70" height="7.25" fill="#0e4c82" stroke="#0a477c" stroke-width="0.7"/>
<line x1="230.20" y1="198.20" x2="230.20" y2="200.60" stroke="#333" stroke-width="1"/>
<line x1="228.45" y1="198.20" x2="231.95" y2="198.20" stroke="#333" stroke-width="1"/>
<rect x="236.65" y="175.15" width="5.70" height="33.05" fill="#3cb44a" stroke="#2aae3a" stroke-width="0.7"/>
<line x1="239.50" y1="171.10" x2="239.50" y2="174.80" stroke="#333" stroke-width="1"/>
<line x1="237.75" y1="171.10" x2="241.25" y2="171.10" stroke="#333" stroke-width="1"/>
<rect x="245.95" y="157.45" width="5.70" height="50.75" fill="#5b2870" stroke="#521a66" stroke-width="0.7"/>
<line x1="248.80" y1="152.20" x2="248.80" y2="157.10" stroke="#555" stroke-width="1"/>
<line x1="247.05" y1="152.20" x2="250.55" y2="152.20" stroke="#555" stroke-width="1"/>
<rect x="261.35" y="199.15" width="5.70" height="9.05" fill="#c8102e" stroke="#bd0020" stroke-width="0.7"/>
<line x1="264.20" y1="195.40" x2="264.20" y2="198.80" stroke="#333" stroke-width="1"/>
<line x1="262.45" y1="195.40" x2="265.95" y2="195.40" stroke="#333" stroke-width="1"/>
<rect x="270.25" y="200.65" width="5.70" height="7.55" fill="#0e4c82" stroke="#0a477c" stroke-width="0.7"/>
<line x1="273.10" y1="196.30" x2="273.10" y2="200.30" stroke="#333" stroke-width="1"/>
<line x1="271.35" y1="196.30" x2="274.85" y2="196.30" stroke="#333" stroke-width="1"/>
<rect x="279.65" y="197.25" width="5.70" height="10.95" fill="#3cb44a" stroke="#2aae3a" stroke-width="0.7"/>
<line x1="282.50" y1="194.50" x2="282.50" y2="196.90" stroke="#333" stroke-width="1"/>
<line x1="280.75" y1="194.50" x2="284.25" y2="194.50" stroke="#333" stroke-width="1"/>
<rect x="289.35" y="167.35" width="5.70" height="40.85" fill="#5b2870" stroke="#521a66" stroke-width="0.7"/>
<line x1="292.20" y1="157.70" x2="292.20" y2="167.00" stroke="#777" stroke-width="1"/>
<line x1="290.45" y1="157.70" x2="293.95" y2="157.70" stroke="#777" stroke-width="1"/>
<line x1="236.30" y1="138.40" x2="285.40" y2="138.40" stroke="#1a1a1a" stroke-width="1.25"/>
<polygon points="256.65,132.25 257.21,133.63 258.69,133.74 257.55,134.69 257.91,136.14 256.65,135.35 255.39,136.14 255.75,134.69 254.61,133.74 256.09,133.63" fill="#1a1a1a"/>
<polygon points="260.85,132.25 261.41,133.63 262.89,133.74 261.75,134.69 262.11,136.14 260.85,135.35 259.59,136.14 259.95,134.69 258.81,133.74 260.29,133.63" fill="#1a1a1a"/>
<polygon points="265.05,132.25 265.61,133.63 267.09,133.74 265.95,134.69 266.31,136.14 265.05,135.35 263.79,136.14 264.15,134.69 263.01,133.74 264.49,133.63" fill="#1a1a1a"/>
<line x1="237.20" y1="148.30" x2="247.90" y2="148.30" stroke="#1a1a1a" stroke-width="1.25"/>
<polygon points="240.45,142.15 241.01,143.53 242.49,143.64 241.35,144.59 241.71,146.04 240.45,145.25 239.19,146.04 239.55,144.59 238.41,143.64 239.89,143.53" fill="#1a1a1a"/>
<polygon points="244.65,142.15 245.21,143.53 246.69,143.64 245.55,144.59 245.91,146.04 244.65,145.25 243.39,146.04 243.75,144.59 242.61,143.64 244.09,143.53" fill="#1a1a1a"/>
<line x1="283.00" y1="154.30" x2="293.70" y2="154.30" stroke="#1a1a1a" stroke-width="1.25"/>
<polygon points="286.25,148.15 286.81,149.53 288.29,149.64 287.15,150.59 287.51,152.04 286.25,151.25 284.99,152.04 285.35,150.59 284.21,149.64 285.69,149.53" fill="#1a1a1a"/>
<polygon points="290.45,148.15 291.01,149.53 292.49,149.64 291.35,150.59 291.71,152.04 290.45,151.25 289.19,152.04 289.55,150.59 288.41,149.64 289.89,149.53" fill="#1a1a1a"/>
<text x="235.80" y="218.00" font-size="8" text-anchor="middle" fill="#1a1a1a" stroke="#1a1a1a" stroke-width="0.08">KMS-11</text>
<text x="280.00" y="218.00" font-size="8" text-anchor="middle" fill="#1a1a1a" stroke="#1a1a1a" stroke-width="0.08">KMS-11/Cfz</text>
<rect x="298.30" y="137.70" width="8.00" height="4.60" fill="#c8102e"/>
<text x="308.40" y="142.30" font-size="8" textLength="22.5" lengthAdjust="spacingAndGlyphs" fill="#1a1a1a" stroke="#1a1a1a" stroke-width="0.08">DMSO</text>
<rect x="298.30" y="147.70" width="8.00" height="4.60" fill="#0e4c82"/>
<text x="308.40" y="152.30" font-size="8" textLength="27.75" lengthAdjust="spacingAndGlyphs" fill="#1a1a1a" stroke="#1a1a1a" stroke-width="0.08">BMS961</text>
<rect x="298.30" y="157.70" width="8.00" height="4.60" fill="#3cb44a"/>
<text x="308.40" y="162.30" font-size="8" textLength="11.5" lengthAdjust="spacingAndGlyphs" fill="#1a1a1a" stroke="#1a1a1a" stroke-width="0.08">Cfz</text>
<rect x="298.30" y="167.70" width="8.00" height="4.60" fill="#5b2870"/>
<text x="308.40" y="172.30" font-size="8" textLength="43.7" lengthAdjust="spacingAndGlyphs" fill="#1a1a1a" stroke="#1a1a1a" stroke-width="0.08">BMS961+Cfz</text>
<text x="354.00" y="130.00" font-size="10.5" font-weight="bold" textLength="7.6" lengthAdjust="spacingAndGlyphs" fill="#000" stroke="#000" stroke-width="0.3">F</text>
<line x1="381.60" y1="133.30" x2="381.60" y2="206.80" stroke="#1a1a1a" stroke-width="1.2"/>
<line x1="381.00" y1="206.20" x2="490.40" y2="206.20" stroke="#1a1a1a" stroke-width="1.2"/>
<line x1="378.40" y1="206.20" x2="381.60" y2="206.20" stroke="#1a1a1a" stroke-width="1.1"/>
<text x="375.80" y="209.00" font-size="8" text-anchor="end" textLength="4.05" lengthAdjust="spacingAndGlyphs" fill="#1a1a1a" stroke="#1a1a1a" stroke-width="0.1">0</text>
<line x1="378.40" y1="191.62" x2="381.60" y2="191.62" stroke="#1a1a1a" stroke-width="1.1"/>
<text x="375.80" y="194.42" font-size="8" text-anchor="end" textLength="8.1" lengthAdjust="spacingAndGlyphs" fill="#1a1a1a" stroke="#1a1a1a" stroke-width="0.1">20</text>
<line x1="378.40" y1="177.04" x2="381.60" y2="177.04" stroke="#1a1a1a" stroke-width="1.1"/>
<text x="375.80" y="179.84" font-size="8" text-anchor="end" textLength="8.1" lengthAdjust="spacingAndGlyphs" fill="#1a1a1a" stroke="#1a1a1a" stroke-width="0.1">40</text>
<line x1="378.40" y1="162.46" x2="381.60" y2="162.46" stroke="#1a1a1a" stroke-width="1.1"/>
<text x="375.80" y="165.26" font-size="8" text-anchor="end" textLength="8.1" lengthAdjust="spacingAndGlyphs" fill="#1a1a1a" stroke="#1a1a1a" stroke-width="0.1">60</text>
<line x1="378.40" y1="147.88" x2="381.60" y2="147.88" stroke="#1a1a1a" stroke-width="1.1"/>
<text x="375.80" y="150.68" font-size="8" text-anchor="end" textLength="8.1" lengthAdjust="spacingAndGlyphs" fill="#1a1a1a" stroke="#1a1a1a" stroke-width="0.1">80</text>
<line x1="378.40" y1="133.30" x2="381.60" y2="133.30" stroke="#1a1a1a" stroke-width="1.1"/>
<text x="375.80" y="136.10" font-size="8" text-anchor="end" textLength="12.15" lengthAdjust="spacingAndGlyphs" fill="#1a1a1a" stroke="#1a1a1a" stroke-width="0.1">100</text>
<text x="362.20" y="171.30" font-size="9.2" text-anchor="middle" textLength="37.5" lengthAdjust="spacingAndGlyphs" transform="rotate(-90 362.20 171.30)" fill="#1a1a1a" stroke="#1a1a1a" stroke-width="0.08">Apoptosis %</text>
<line x1="398.50" y1="206.20" x2="398.50" y2="208.70" stroke="#1a1a1a" stroke-width="1"/>
<text x="394.80" y="218.90" font-size="8" text-anchor="middle" fill="#1a1a1a" stroke="#1a1a1a" stroke-width="0.08">DMSO</text>
<line x1="423.30" y1="206.20" x2="423.30" y2="208.70" stroke="#1a1a1a" stroke-width="1"/>
<text x="424.70" y="218.90" font-size="8" text-anchor="middle" fill="#1a1a1a" stroke="#1a1a1a" stroke-width="0.08">BMS961</text>
<line x1="448.70" y1="206.20" x2="448.70" y2="208.70" stroke="#1a1a1a" stroke-width="1"/>
<text x="449.10" y="218.90" font-size="8" text-anchor="middle" fill="#1a1a1a" stroke="#1a1a1a" stroke-width="0.08">Cfz</text>
<line x1="473.70" y1="206.20" x2="473.70" y2="208.70" stroke="#1a1a1a" stroke-width="1"/>
<text x="474.90" y="218.90" font-size="8" text-anchor="middle" fill="#1a1a1a" stroke="#1a1a1a" stroke-width="0.08">BMS+Cfz</text>
<line x1="390.40" y1="197.60" x2="406.40" y2="197.60" stroke="#1a1a1a" stroke-width="1.1"/>
<line x1="398.40" y1="195.30" x2="398.40" y2="200.40" stroke="#1a1a1a" stroke-width="1"/>
<line x1="394.40" y1="195.30" x2="402.40" y2="195.30" stroke="#1a1a1a" stroke-width="1"/>
<line x1="394.40" y1="200.40" x2="402.40" y2="200.40" stroke="#1a1a1a" stroke-width="1"/>
<circle cx="391.7" cy="198.5" r="1.5" fill="none" stroke="#c8102e" stroke-width="0.9"/>
<circle cx="398.2" cy="194.1" r="1.5" fill="none" stroke="#c8102e" stroke-width="0.9"/>
<circle cx="400.4" cy="198.9" r="1.5" fill="none" stroke="#c8102e" stroke-width="0.9"/>
<circle cx="404.7" cy="197.3" r="1.5" fill="none" stroke="#c8102e" stroke-width="0.9"/>
<circle cx="396.3" cy="201.3" r="1.5" fill="none" stroke="#c8102e" stroke-width="0.9"/>
<line x1="416.40" y1="198.75" x2="430.40" y2="198.75" stroke="#1a1a1a" stroke-width="1.1"/>
<line x1="423.40" y1="197.00" x2="423.40" y2="200.60" stroke="#1a1a1a" stroke-width="1"/>
<line x1="419.90" y1="197.00" x2="426.90" y2="197.00" stroke="#1a1a1a" stroke-width="1"/>
<line x1="419.90" y1="200.60" x2="426.90" y2="200.60" stroke="#1a1a1a" stroke-width="1"/>
<rect x="415.30" y="197.35" width="2.80" height="2.80" fill="#0e4c82" rx="0.5"/>
<rect x="421.90" y="194.70" width="2.80" height="2.80" fill="#0e4c82" rx="0.5"/>
<rect x="424.00" y="198.50" width="2.80" height="2.80" fill="#0e4c82" rx="0.5"/>
<rect x="428.00" y="197.10" width="2.80" height="2.80" fill="#0e4c82" rx="0.5"/>
<rect x="419.70" y="200.40" width="2.80" height="2.80" fill="#0e4c82" rx="0.5"/>
<line x1="440.15" y1="184.90" x2="456.85" y2="184.90" stroke="#1a1a1a" stroke-width="1.1"/>
<line x1="448.50" y1="174.10" x2="448.50" y2="195.60" stroke="#1a1a1a" stroke-width="1"/>
<line x1="444.50" y1="174.10" x2="452.50" y2="174.10" stroke="#1a1a1a" stroke-width="1"/>
<line x1="444.50" y1="195.60" x2="452.50" y2="195.60" stroke="#1a1a1a" stroke-width="1"/>
<path d="M444.4,174.29999999999998 L447.6,174.29999999999998 L446,171.5 Z" fill="#3cb44a"/>
<path d="M449.59999999999997,175.7 L452.8,175.7 L451.2,172.9 Z" fill="#3cb44a"/>
<path d="M442.59999999999997,191.7 L445.8,191.7 L444.2,188.9 Z" fill="#3cb44a"/>
<path d="M451.2,193.5 L454.40000000000003,193.5 L452.8,190.70000000000002 Z" fill="#3cb44a"/>
<path d="M446.9,196.6 L450.1,196.6 L448.5,193.8 Z" fill="#3cb44a"/>
<line x1="465.40" y1="160.30" x2="482.00" y2="160.30" stroke="#1a1a1a" stroke-width="1.1"/>
<line x1="473.70" y1="142.40" x2="473.70" y2="178.40" stroke="#1a1a1a" stroke-width="1"/>
<line x1="469.70" y1="142.40" x2="477.70" y2="142.40" stroke="#1a1a1a" stroke-width="1"/>
<line x1="469.70" y1="178.40" x2="477.70" y2="178.40" stroke="#1a1a1a" stroke-width="1"/>
<path d="M472.09999999999997,140.70000000000002 L475.3,140.70000000000002 L473.7,143.5 Z" fill="#5b2870"/>
<path d="M469.5,150.0 L472.70000000000005,150.0 L471.1,152.79999999999998 Z" fill="#5b2870"/>
<path d="M474.2,149.70000000000002 L477.40000000000003,149.70000000000002 L475.8,152.5 Z" fill="#5b2870"/>
<path d="M472.09999999999997,170.9 L475.3,170.9 L473.7,173.7 Z" fill="#5b2870"/>
<path d="M472.09999999999997,183.70000000000002 L475.3,183.70000000000002 L473.7,186.5 Z" fill="#5b2870"/>
<line x1="421.70" y1="164.50" x2="442.40" y2="164.50" stroke="#1a1a1a" stroke-width="1.25"/>
<polygon points="432.05,158.35 432.61,159.73 434.09,159.84 432.95,160.79 433.31,162.24 432.05,161.45 430.79,162.24 431.15,160.79 430.01,159.84 431.49,159.73" fill="#1a1a1a"/>
<line x1="446.50" y1="131.50" x2="467.00" y2="131.50" stroke="#1a1a1a" stroke-width="1.25"/>
<polygon points="456.75,125.35 457.31,126.73 458.79,126.84 457.65,127.79 458.01,129.24 456.75,128.45 455.49,129.24 455.85,127.79 454.71,126.84 456.19,126.73" fill="#1a1a1a"/>
<text x="6.00" y="252.00" font-size="10.5" font-weight="bold" textLength="7.6" lengthAdjust="spacingAndGlyphs" fill="#000" stroke="#000" stroke-width="0.3">G</text>
<line x1="33.80" y1="260.30" x2="33.80" y2="346.80" stroke="#1a1a1a" stroke-width="1.2"/>
<line x1="33.20" y1="346.20" x2="135.60" y2="346.20" stroke="#1a1a1a" stroke-width="1.2"/>
<line x1="29.80" y1="346.20" x2="33.80" y2="346.20" stroke="#1a1a1a" stroke-width="1.1"/>
<text x="27.20" y="349.00" font-size="8" text-anchor="end" textLength="3.9" lengthAdjust="spacingAndGlyphs" fill="#1a1a1a" stroke="#1a1a1a" stroke-width="0.1">0</text>
<line x1="29.80" y1="317.55" x2="33.80" y2="317.55" stroke="#1a1a1a" stroke-width="1.1"/>
<text x="27.20" y="320.35" font-size="8" text-anchor="end" textLength="3.9" lengthAdjust="spacingAndGlyphs" fill="#1a1a1a" stroke="#1a1a1a" stroke-width="0.1">5</text>
<line x1="29.80" y1="288.90" x2="33.80" y2="288.90" stroke="#1a1a1a" stroke-width="1.1"/>
<text x="27.20" y="291.70" font-size="8" text-anchor="end" textLength="7.8" lengthAdjust="spacingAndGlyphs" fill="#1a1a1a" stroke="#1a1a1a" stroke-width="0.1">10</text>
<line x1="29.80" y1="260.25" x2="33.80" y2="260.25" stroke="#1a1a1a" stroke-width="1.1"/>
<text x="27.20" y="263.05" font-size="8" text-anchor="end" textLength="7.8" lengthAdjust="spacingAndGlyphs" fill="#1a1a1a" stroke="#1a1a1a" stroke-width="0.1">15</text>
<text x="13.00" y="302.50" font-size="8.0" text-anchor="middle" textLength="79.2" lengthAdjust="spacingAndGlyphs" transform="rotate(-90 13.00 302.50)" fill="#1a1a1a" stroke="#1a1a1a" stroke-width="0.08">Relative <tspan font-style="italic">IRF1</tspan> expression</text>
<rect x="37.55" y="340.95" width="6.70" height="5.25" fill="#c8102e" stroke="#bd0020" stroke-width="0.7"/>
<line x1="40.90" y1="339.50" x2="40.90" y2="340.60" stroke="#c8102e" stroke-width="1"/>
<line x1="38.90" y1="339.50" x2="42.90" y2="339.50" stroke="#c8102e" stroke-width="1"/>
<rect x="48.55" y="307.15" width="6.70" height="39.05" fill="#0e4c82" stroke="#0a477c" stroke-width="0.7"/>
<line x1="51.90" y1="304.50" x2="51.90" y2="306.80" stroke="#0e4c82" stroke-width="1"/>
<line x1="49.90" y1="304.50" x2="53.90" y2="304.50" stroke="#0e4c82" stroke-width="1"/>
<rect x="59.85" y="334.55" width="6.70" height="11.65" fill="#3cb44a" stroke="#2aae3a" stroke-width="0.7"/>
<line x1="63.20" y1="332.00" x2="63.20" y2="334.20" stroke="#3cb44a" stroke-width="1"/>
<line x1="61.20" y1="332.00" x2="65.20" y2="332.00" stroke="#3cb44a" stroke-width="1"/>
<rect x="71.15" y="316.15" width="6.70" height="30.05" fill="#5b2870" stroke="#521a66" stroke-width="0.7"/>
<line x1="74.50" y1="313.80" x2="74.50" y2="315.80" stroke="#5b2870" stroke-width="1"/>
<line x1="72.50" y1="313.80" x2="76.50" y2="313.80" stroke="#5b2870" stroke-width="1"/>
<rect x="90.25" y="341.45" width="6.70" height="4.75" fill="#c8102e" stroke="#bd0020" stroke-width="0.7"/>
<line x1="93.60" y1="340.20" x2="93.60" y2="341.10" stroke="#c8102e" stroke-width="1"/>
<line x1="91.60" y1="340.20" x2="95.60" y2="340.20" stroke="#c8102e" stroke-width="1"/>
<rect x="101.55" y="275.45" width="6.70" height="70.75" fill="#0e4c82" stroke="#0a477c" stroke-width="0.7"/>
<line x1="104.90" y1="271.30" x2="104.90" y2="275.10" stroke="#0e4c82" stroke-width="1"/>
<line x1="102.90" y1="271.30" x2="106.90" y2="271.30" stroke="#0e4c82" stroke-width="1"/>
<rect x="112.95" y="338.65" width="6.70" height="7.55" fill="#3cb44a" stroke="#2aae3a" stroke-width="0.7"/>
<line x1="116.30" y1="336.30" x2="116.30" y2="338.30" stroke="#3cb44a" stroke-width="1"/>
<line x1="114.30" y1="336.30" x2="118.30" y2="336.30" stroke="#3cb44a" stroke-width="1"/>
<rect x="124.25" y="283.65" width="6.70" height="62.55" fill="#5b2870" stroke="#521a66" stroke-width="0.7"/>
<line x1="127.60" y1="280.60" x2="127.60" y2="283.30" stroke="#5b2870" stroke-width="1"/>
<line x1="125.60" y1="280.60" x2="129.60" y2="280.60" stroke="#5b2870" stroke-width="1"/>
<line x1="40.80" y1="302.50" x2="52.50" y2="302.50" stroke="#1a1a1a" stroke-width="1.25"/>
<polygon points="42.45,296.35 43.01,297.73 44.49,297.84 43.35,298.79 43.71,300.24 42.45,299.45 41.19,300.24 41.55,298.79 40.41,297.84 41.89,297.73" fill="#1a1a1a"/>
<polygon points="46.65,296.35 47.21,297.73 48.69,297.84 47.55,298.79 47.91,300.24 46.65,299.45 45.39,300.24 45.75,298.79 44.61,297.84 46.09,297.73" fill="#1a1a1a"/>
<polygon points="50.85,296.35 51.41,297.73 52.89,297.84 51.75,298.79 52.11,300.24 50.85,299.45 49.59,300.24 49.95,298.79 48.81,297.84 50.29,297.73" fill="#1a1a1a"/>
<line x1="63.00" y1="308.70" x2="74.50" y2="308.70" stroke="#1a1a1a" stroke-width="1.25"/>
<polygon points="64.55,302.55 65.11,303.93 66.59,304.04 65.45,304.99 65.81,306.44 64.55,305.65 63.29,306.44 63.65,304.99 62.51,304.04 63.99,303.93" fill="#1a1a1a"/>
<polygon points="68.75,302.55 69.31,303.93 70.79,304.04 69.65,304.99 70.01,306.44 68.75,305.65 67.49,306.44 67.85,304.99 66.71,304.04 68.19,303.93" fill="#1a1a1a"/>
<polygon points="72.95,302.55 73.51,303.93 74.99,304.04 73.85,304.99 74.21,306.44 72.95,305.65 71.69,306.44 72.05,304.99 70.91,304.04 72.39,303.93" fill="#1a1a1a"/>
<line x1="94.20" y1="267.60" x2="105.70" y2="267.60" stroke="#1a1a1a" stroke-width="1.25"/>
<polygon points="95.75,261.45 96.31,262.83 97.79,262.94 96.65,263.89 97.01,265.34 95.75,264.55 94.49,265.34 94.85,263.89 93.71,262.94 95.19,262.83" fill="#1a1a1a"/>
<polygon points="99.95,261.45 100.51,262.83 101.99,262.94 100.85,263.89 101.21,265.34 99.95,264.55 98.69,265.34 99.05,263.89 97.91,262.94 99.39,262.83" fill="#1a1a1a"/>
<polygon points="104.15,261.45 104.71,262.83 106.19,262.94 105.05,263.89 105.41,265.34 104.15,264.55 102.89,265.34 103.25,263.89 102.11,262.94 103.59,262.83" fill="#1a1a1a"/>
<line x1="116.00" y1="277.40" x2="129.70" y2="277.40" stroke="#1a1a1a" stroke-width="1.25"/>
<polygon points="116.55,271.25 117.11,272.63 118.59,272.74 117.45,273.69 117.81,275.14 116.55,274.35 115.29,275.14 115.65,273.69 114.51,272.74 115.99,272.63" fill="#1a1a1a"/>
<polygon points="120.75,271.25 121.31,272.63 122.79,272.74 121.65,273.69 122.01,275.14 120.75,274.35 119.49,275.14 119.85,273.69 118.71,272.74 120.19,272.63" fill="#1a1a1a"/>
<polygon points="124.95,271.25 125.51,272.63 126.99,272.74 125.85,273.69 126.21,275.14 124.95,274.35 123.69,275.14 124.05,273.69 122.91,272.74 124.39,272.63" fill="#1a1a1a"/>
<polygon points="129.15,271.25 129.71,272.63 131.19,272.74 130.05,273.69 130.41,275.14 129.15,274.35 127.89,275.14 128.25,273.69 127.11,272.74 128.59,272.63" fill="#1a1a1a"/>
<text x="57.30" y="356.20" font-size="8.2" text-anchor="middle" textLength="21.5" lengthAdjust="spacingAndGlyphs" fill="#1a1a1a" stroke="#1a1a1a" stroke-width="0.08">ARP-1</text>
<text x="110.60" y="356.20" font-size="8.2" text-anchor="middle" textLength="25" lengthAdjust="spacingAndGlyphs" fill="#1a1a1a" stroke="#1a1a1a" stroke-width="0.08">MM.1S</text>
<rect x="134.60" y="259.70" width="8.00" height="4.60" fill="#c8102e"/>
<text x="145.60" y="264.30" font-size="8" textLength="22.5" lengthAdjust="spacingAndGlyphs" fill="#1a1a1a" stroke="#1a1a1a" stroke-width="0.08">DMSO</text>
<rect x="134.60" y="268.70" width="8.00" height="4.60" fill="#0e4c82"/>
<text x="145.60" y="273.30" font-size="8" textLength="27.75" lengthAdjust="spacingAndGlyphs" fill="#1a1a1a" stroke="#1a1a1a" stroke-width="0.08">BMS961</text>
<rect x="134.60" y="278.00" width="8.00" height="4.60" fill="#3cb44a"/>
<text x="145.60" y="282.60" font-size="8" textLength="11.5" lengthAdjust="spacingAndGlyphs" fill="#1a1a1a" stroke="#1a1a1a" stroke-width="0.08">Cfz</text>
<rect x="134.60" y="287.30" width="8.00" height="4.60" fill="#5b2870"/>
<text x="145.60" y="291.90" font-size="8" textLength="43.7" lengthAdjust="spacingAndGlyphs" fill="#1a1a1a" stroke="#1a1a1a" stroke-width="0.08">BMS961+Cfz</text>
<line x1="215.40" y1="260.30" x2="215.40" y2="346.50" stroke="#1a1a1a" stroke-width="1.2"/>
<line x1="214.80" y1="345.90" x2="317.50" y2="345.90" stroke="#1a1a1a" stroke-width="1.2"/>
<line x1="211.90" y1="345.90" x2="215.40" y2="345.90" stroke="#1a1a1a" stroke-width="1.1"/>
<text x="209.80" y="348.70" font-size="8" text-anchor="end" textLength="3.9" lengthAdjust="spacingAndGlyphs" fill="#1a1a1a" stroke="#1a1a1a" stroke-width="0.1">0</text>
<line x1="211.90" y1="324.50" x2="215.40" y2="324.50" stroke="#1a1a1a" stroke-width="1.1"/>
<text x="209.80" y="327.30" font-size="8" text-anchor="end" textLength="3.9" lengthAdjust="spacingAndGlyphs" fill="#1a1a1a" stroke="#1a1a1a" stroke-width="0.1">2</text>
<line x1="211.90" y1="303.10" x2="215.40" y2="303.10" stroke="#1a1a1a" stroke-width="1.1"/>
<text x="209.80" y="305.90" font-size="8" text-anchor="end" textLength="3.9" lengthAdjust="spacingAndGlyphs" fill="#1a1a1a" stroke="#1a1a1a" stroke-width="0.1">4</text>
<line x1="211.90" y1="281.70" x2="215.40" y2="281.70" stroke="#1a1a1a" stroke-width="1.1"/>
<text x="209.80" y="284.50" font-size="8" text-anchor="end" textLength="3.9" lengthAdjust="spacingAndGlyphs" fill="#1a1a1a" stroke="#1a1a1a" stroke-width="0.1">6</text>
<line x1="211.90" y1="260.30" x2="215.40" y2="260.30" stroke="#1a1a1a" stroke-width="1.1"/>
<text x="209.80" y="263.10" font-size="8" text-anchor="end" textLength="3.9" lengthAdjust="spacingAndGlyphs" fill="#1a1a1a" stroke="#1a1a1a" stroke-width="0.1">8</text>
<text x="198.30" y="303.40" font-size="8.4" text-anchor="middle" textLength="84" lengthAdjust="spacingAndGlyphs" transform="rotate(-90 198.30 303.40)" fill="#1a1a1a" stroke="#1a1a1a" stroke-width="0.08">Relative <tspan font-style="italic">OAS1</tspan> expression</text>
<rect x="219.75" y="335.95" width="6.70" height="9.95" fill="#c8102e" stroke="#bd0020" stroke-width="0.7"/>
<line x1="223.10" y1="332.30" x2="223.10" y2="335.60" stroke="#c8102e" stroke-width="1"/>
<line x1="221.10" y1="332.30" x2="225.10" y2="332.30" stroke="#c8102e" stroke-width="1"/>
<rect x="231.05" y="277.25" width="6.70" height="68.65" fill="#0e4c82" stroke="#0a477c" stroke-width="0.7"/>
<line x1="234.40" y1="269.70" x2="234.40" y2="276.90" stroke="#0e4c82" stroke-width="1"/>
<line x1="232.40" y1="269.70" x2="236.40" y2="269.70" stroke="#0e4c82" stroke-width="1"/>
<rect x="242.35" y="328.55" width="6.70" height="17.35" fill="#3cb44a" stroke="#2aae3a" stroke-width="0.7"/>
<line x1="245.70" y1="323.00" x2="245.70" y2="328.20" stroke="#3cb44a" stroke-width="1"/>
<line x1="243.70" y1="323.00" x2="247.70" y2="323.00" stroke="#3cb44a" stroke-width="1"/>
<rect x="253.65" y="283.35" width="6.70" height="62.55" fill="#5b2870" stroke="#521a66" stroke-width="0.7"/>
<line x1="257.00" y1="277.50" x2="257.00" y2="283.00" stroke="#5b2870" stroke-width="1"/>
<line x1="255.00" y1="277.50" x2="259.00" y2="277.50" stroke="#5b2870" stroke-width="1"/>
<rect x="272.85" y="336.05" width="6.70" height="9.85" fill="#c8102e" stroke="#bd0020" stroke-width="0.7"/>
<line x1="276.20" y1="333.70" x2="276.20" y2="335.70" stroke="#c8102e" stroke-width="1"/>
<line x1="274.20" y1="333.70" x2="278.20" y2="333.70" stroke="#c8102e" stroke-width="1"/>
<rect x="284.15" y="301.55" width="6.70" height="44.35" fill="#0e4c82" stroke="#0a477c" stroke-width="0.7"/>
<line x1="287.50" y1="295.50" x2="287.50" y2="301.20" stroke="#0e4c82" stroke-width="1"/>
<line x1="285.50" y1="295.50" x2="289.50" y2="295.50" stroke="#0e4c82" stroke-width="1"/>
<rect x="295.35" y="332.35" width="6.70" height="13.55" fill="#3cb44a" stroke="#2aae3a" stroke-width="0.7"/>
<line x1="298.70" y1="327.50" x2="298.70" y2="332.00" stroke="#3cb44a" stroke-width="1"/>
<line x1="296.70" y1="327.50" x2="300.70" y2="327.50" stroke="#3cb44a" stroke-width="1"/>
<rect x="306.65" y="289.05" width="6.70" height="56.85" fill="#5b2870" stroke="#521a66" stroke-width="0.7"/>
<line x1="310.00" y1="279.50" x2="310.00" y2="288.70" stroke="#5b2870" stroke-width="1"/>
<line x1="308.00" y1="279.50" x2="312.00" y2="279.50" stroke="#5b2870" stroke-width="1"/>
<line x1="223.30" y1="266.20" x2="235.50" y2="266.20" stroke="#1a1a1a" stroke-width="1.25"/>
<polygon points="227.30,260.05 227.86,261.43 229.34,261.54 228.20,262.49 228.56,263.94 227.30,263.15 226.04,263.94 226.40,262.49 225.26,261.54 226.74,261.43" fill="#1a1a1a"/>
<polygon points="231.50,260.05 232.06,261.43 233.54,261.54 232.40,262.49 232.76,263.94 231.50,263.15 230.24,263.94 230.60,262.49 229.46,261.54 230.94,261.43" fill="#1a1a1a"/>
<line x1="245.80" y1="273.20" x2="258.00" y2="273.20" stroke="#1a1a1a" stroke-width="1.25"/>
<polygon points="247.70,267.05 248.26,268.43 249.74,268.54 248.60,269.49 248.96,270.94 247.70,270.15 246.44,270.94 246.80,269.49 245.66,268.54 247.14,268.43" fill="#1a1a1a"/>
<polygon points="251.90,267.05 252.46,268.43 253.94,268.54 252.80,269.49 253.16,270.94 251.90,270.15 250.64,270.94 251.00,269.49 249.86,268.54 251.34,268.43" fill="#1a1a1a"/>
<polygon points="256.10,267.05 256.66,268.43 258.14,268.54 257.00,269.49 257.36,270.94 256.10,270.15 254.84,270.94 255.20,269.49 254.06,268.54 255.54,268.43" fill="#1a1a1a"/>
<line x1="275.80" y1="290.50" x2="288.00" y2="290.50" stroke="#1a1a1a" stroke-width="1.25"/>
<polygon points="279.80,284.35 280.36,285.73 281.84,285.84 280.70,286.79 281.06,288.24 279.80,287.45 278.54,288.24 278.90,286.79 277.76,285.84 279.24,285.73" fill="#1a1a1a"/>
<polygon points="284.00,284.35 284.56,285.73 286.04,285.84 284.90,286.79 285.26,288.24 284.00,287.45 282.74,288.24 283.10,286.79 281.96,285.84 283.44,285.73" fill="#1a1a1a"/>
<line x1="299.50" y1="276.20" x2="311.30" y2="276.20" stroke="#1a1a1a" stroke-width="1.25"/>
<polygon points="303.30,270.05 303.86,271.43 305.34,271.54 304.20,272.49 304.56,273.94 303.30,273.15 302.04,273.94 302.40,272.49 301.26,271.54 302.74,271.43" fill="#1a1a1a"/>
<polygon points="307.50,270.05 308.06,271.43 309.54,271.54 308.40,272.49 308.76,273.94 307.50,273.15 306.24,273.94 306.60,272.49 305.46,271.54 306.94,271.43" fill="#1a1a1a"/>
<text x="240.00" y="356.20" font-size="8.2" text-anchor="middle" textLength="21.5" lengthAdjust="spacingAndGlyphs" fill="#1a1a1a" stroke="#1a1a1a" stroke-width="0.08">ARP-1</text>
<text x="293.00" y="356.20" font-size="8.2" text-anchor="middle" textLength="25" lengthAdjust="spacingAndGlyphs" fill="#1a1a1a" stroke="#1a1a1a" stroke-width="0.08">MM.1S</text>
<rect x="319.50" y="259.70" width="8.00" height="4.60" fill="#c8102e"/>
<text x="330.50" y="264.30" font-size="8" textLength="22.5" lengthAdjust="spacingAndGlyphs" fill="#1a1a1a" stroke="#1a1a1a" stroke-width="0.08">DMSO</text>
<rect x="319.50" y="268.70" width="8.00" height="4.60" fill="#0e4c82"/>
<text x="330.50" y="273.30" font-size="8" textLength="27.75" lengthAdjust="spacingAndGlyphs" fill="#1a1a1a" stroke="#1a1a1a" stroke-width="0.08">BMS961</text>
<rect x="319.50" y="278.00" width="8.00" height="4.60" fill="#3cb44a"/>
<text x="330.50" y="282.60" font-size="8" textLength="11.5" lengthAdjust="spacingAndGlyphs" fill="#1a1a1a" stroke="#1a1a1a" stroke-width="0.08">Cfz</text>
<rect x="319.50" y="287.30" width="8.00" height="4.60" fill="#5b2870"/>
<text x="330.50" y="291.90" font-size="8" textLength="43.7" lengthAdjust="spacingAndGlyphs" fill="#1a1a1a" stroke="#1a1a1a" stroke-width="0.08">BMS961+Cfz</text>
<text x="376.50" y="252.00" font-size="10.5" font-weight="bold" textLength="7.6" lengthAdjust="spacingAndGlyphs" fill="#000" stroke="#000" stroke-width="0.3">H</text>
<text x="410.70" y="267.00" font-size="7.8" text-anchor="middle" fill="#1a1a1a" stroke="#1a1a1a" stroke-width="0.08">ARP-1</text>
<text x="463.10" y="267.00" font-size="7.8" text-anchor="middle" fill="#1a1a1a" stroke="#1a1a1a" stroke-width="0.08">MM.1S</text>
<line x1="387.60" y1="268.90" x2="435.40" y2="268.90" stroke="#1a1a1a" stroke-width="0.9"/>
<line x1="439.50" y1="268.90" x2="486.60" y2="268.90" stroke="#1a1a1a" stroke-width="0.9"/>
<text x="396.30" y="319.20" font-size="8.6" textLength="24.2" lengthAdjust="spacingAndGlyphs" transform="rotate(-90 396.30 319.20)" fill="#1a1a1a" stroke="#1a1a1a" stroke-width="0.05">DMSO</text>
<text x="408.70" y="319.20" font-size="8.6" textLength="29.5" lengthAdjust="spacingAndGlyphs" transform="rotate(-90 408.70 319.20)" fill="#1a1a1a" stroke="#1a1a1a" stroke-width="0.05">BMS961</text>
<text x="421.00" y="319.20" font-size="8.6" textLength="12.7" lengthAdjust="spacingAndGlyphs" transform="rotate(-90 421.00 319.20)" fill="#1a1a1a" stroke="#1a1a1a" stroke-width="0.05">Cfz</text>
<text x="433.20" y="319.20" font-size="8.6" textLength="47.3" lengthAdjust="spacingAndGlyphs" transform="rotate(-90 433.20 319.20)" fill="#1a1a1a" stroke="#1a1a1a" stroke-width="0.05">BMS961+Cfz</text>
<text x="447.50" y="319.20" font-size="8.6" textLength="24.2" lengthAdjust="spacingAndGlyphs" transform="rotate(-90 447.50 319.20)" fill="#1a1a1a" stroke="#1a1a1a" stroke-width="0.05">DMSO</text>
<text x="460.20" y="319.20" font-size="8.6" textLength="29.5" lengthAdjust="spacingAndGlyphs" transform="rotate(-90 460.20 319.20)" fill="#1a1a1a" stroke="#1a1a1a" stroke-width="0.05">BMS961</text>
<text x="472.40" y="319.20" font-size="8.6" textLength="12.7" lengthAdjust="spacingAndGlyphs" transform="rotate(-90 472.40 319.20)" fill="#1a1a1a" stroke="#1a1a1a" stroke-width="0.05">Cfz</text>
<text x="486.80" y="319.20" font-size="8.6" textLength="47.3" lengthAdjust="spacingAndGlyphs" transform="rotate(-90 486.80 319.20)" fill="#1a1a1a" stroke="#1a1a1a" stroke-width="0.05">BMS961+Cfz</text>
<defs><filter id="bl" x="-50%" y="-100%" width="200%" height="300%"><feGaussianBlur stdDeviation="0.7"/></filter></defs>
<rect x="385.90" y="322.20" width="51.40" height="11.20" fill="#bebebe"/>
<rect x="385.90" y="330.20" width="51.40" height="2.60" fill="#a8a8a8" filter="url(#bl)"/>
<rect x="387.70" y="327.40" width="9.30" height="3.00" rx="0.86" fill="rgb(128,128,128)" filter="url(#bl)"/>
<rect x="399.60" y="326.80" width="10.60" height="4.20" rx="1.20" fill="rgb(32,32,32)" filter="url(#bl)"/>
<rect x="411.90" y="327.50" width="9.50" height="2.80" rx="0.80" fill="rgb(144,144,144)" filter="url(#bl)"/>
<rect x="424.00" y="327.10" width="10.90" height="3.60" rx="1.03" fill="rgb(80,80,80)" filter="url(#bl)"/>
<rect x="386.50" y="322.80" width="50.20" height="10.00" fill="none" stroke="#111" stroke-width="1.15"/>
<rect x="439.20" y="322.20" width="51.40" height="11.20" fill="#bebebe"/>
<rect x="439.20" y="330.20" width="51.40" height="2.60" fill="#a8a8a8" filter="url(#bl)"/>
<rect x="441.00" y="326.30" width="10.50" height="3.00" rx="0.86" fill="rgb(108,108,108)" filter="url(#bl)"/>
<rect x="453.00" y="325.60" width="10.50" height="4.40" rx="1.26" fill="rgb(10,10,10)" filter="url(#bl)"/>
<rect x="465.60" y="326.40" width="10.60" height="2.80" rx="0.80" fill="rgb(132,132,132)" filter="url(#bl)"/>
<rect x="477.80" y="326.00" width="10.80" height="3.60" rx="1.03" fill="rgb(69,69,69)" filter="url(#bl)"/>
<rect x="439.80" y="322.80" width="50.20" height="10.00" fill="none" stroke="#111" stroke-width="1.15"/>
<rect x="385.90" y="335.00" width="51.40" height="11.00" fill="#e0e0e0"/>
<rect x="387.70" y="339.80" width="9.30" height="2.40" rx="0.69" fill="rgb(216,216,216)" filter="url(#bl)"/>
<rect x="399.60" y="338.60" width="10.60" height="4.80" rx="1.37" fill="rgb(0,0,0)" filter="url(#bl)"/>
<rect x="411.90" y="339.80" width="9.50" height="2.40" rx="0.69" fill="rgb(208,208,208)" filter="url(#bl)"/>
<rect x="424.00" y="338.60" width="10.90" height="4.80" rx="1.37" fill="rgb(0,0,0)" filter="url(#bl)"/>
<rect x="386.50" y="335.60" width="50.20" height="9.80" fill="none" stroke="#111" stroke-width="1.15"/>
<rect x="439.20" y="335.00" width="51.40" height="11.00" fill="#e0e0e0"/>
<rect x="441.00" y="339.70" width="10.50" height="2.60" rx="0.74" fill="rgb(204,204,204)" filter="url(#bl)"/>
<rect x="453.00" y="338.50" width="10.50" height="5.00" rx="1.43" fill="rgb(0,0,0)" filter="url(#bl)"/>
<rect x="465.60" y="339.70" width="10.60" height="2.60" rx="0.74" fill="rgb(196,196,196)" filter="url(#bl)"/>
<rect x="477.80" y="338.60" width="10.80" height="4.80" rx="1.37" fill="rgb(0,0,0)" filter="url(#bl)"/>
<rect x="439.80" y="335.60" width="50.20" height="9.80" fill="none" stroke="#111" stroke-width="1.15"/>
<rect x="385.90" y="347.30" width="51.40" height="11.40" fill="#e9e9e9"/>
<rect x="387.70" y="352.40" width="9.30" height="3.20" rx="0.91" fill="rgb(16,16,16)" filter="url(#bl)"/>
<rect x="399.60" y="352.10" width="10.60" height="3.80" rx="1.09" fill="rgb(0,0,0)" filter="url(#bl)"/>
<rect x="411.90" y="352.30" width="9.50" height="3.40" rx="0.97" fill="rgb(10,10,10)" filter="url(#bl)"/>
<rect x="424.00" y="352.30" width="10.90" height="3.40" rx="0.97" fill="rgb(8,8,8)" filter="url(#bl)"/>
<rect x="386.50" y="347.90" width="50.20" height="10.20" fill="none" stroke="#111" stroke-width="1.15"/>
<rect x="439.20" y="347.30" width="51.40" height="11.40" fill="#e9e9e9"/>
<rect x="441.00" y="352.30" width="10.50" height="3.40" rx="0.97" fill="rgb(48,48,48)" filter="url(#bl)"/>
<rect x="453.00" y="352.30" width="10.50" height="3.40" rx="0.97" fill="rgb(48,48,48)" filter="url(#bl)"/>
<rect x="465.60" y="352.40" width="10.60" height="3.20" rx="0.91" fill="rgb(56,56,56)" filter="url(#bl)"/>
<rect x="477.80" y="352.40" width="10.80" height="3.20" rx="0.91" fill="rgb(56,56,56)" filter="url(#bl)"/>
<rect x="439.80" y="347.90" width="50.20" height="10.20" fill="none" stroke="#111" stroke-width="1.15"/>
<text x="493.00" y="330.20" font-size="8" fill="#1a1a1a" stroke="#1a1a1a" stroke-width="0.08">IRF1</text>
<text x="493.00" y="344.20" font-size="8" fill="#1a1a1a" stroke="#1a1a1a" stroke-width="0.08">OAS1</text>
<text x="493.00" y="357.00" font-size="8" fill="#1a1a1a" stroke="#1a1a1a" stroke-width="0.08">Actin</text>
<text x="6.00" y="385.50" font-size="10.5" font-weight="bold" fill="#000" stroke="#000" stroke-width="0.3">I</text>
<line x1="33.70" y1="389.10" x2="33.70" y2="457.90" stroke="#1a1a1a" stroke-width="1.2"/>
<line x1="33.10" y1="457.30" x2="227.00" y2="457.30" stroke="#1a1a1a" stroke-width="1.2"/>
<line x1="29.70" y1="457.30" x2="33.70" y2="457.30" stroke="#1a1a1a" stroke-width="1.1"/>
<text x="27.50" y="460.20" font-size="8.3" text-anchor="end" textLength="4.3" lengthAdjust="spacingAndGlyphs" fill="#1a1a1a" stroke="#1a1a1a" stroke-width="0.1">0</text>
<line x1="29.70" y1="423.35" x2="33.70" y2="423.35" stroke="#1a1a1a" stroke-width="1.1"/>
<text x="27.50" y="426.25" font-size="8.3" text-anchor="end" textLength="4.3" lengthAdjust="spacingAndGlyphs" fill="#1a1a1a" stroke="#1a1a1a" stroke-width="0.1">5</text>
<line x1="29.70" y1="389.40" x2="33.70" y2="389.40" stroke="#1a1a1a" stroke-width="1.1"/>
<text x="27.50" y="392.30" font-size="8.3" text-anchor="end" textLength="8.6" lengthAdjust="spacingAndGlyphs" fill="#1a1a1a" stroke="#1a1a1a" stroke-width="0.1">10</text>
<text x="14.00" y="423.50" font-size="8.2" text-anchor="middle" textLength="11.6" lengthAdjust="spacingAndGlyphs" transform="rotate(-90 14.00 423.50)" fill="#1a1a1a" stroke="#1a1a1a" stroke-width="0.08">RIN</text>
<rect x="38.95" y="398.65" width="10.10" height="58.65" fill="#c8102e" stroke="#bd0020" stroke-width="0.7"/>
<line x1="44.00" y1="391.90" x2="44.00" y2="398.30" stroke="#c8102e" stroke-width="1"/>
<line x1="41.50" y1="391.90" x2="46.50" y2="391.90" stroke="#c8102e" stroke-width="1"/>
<rect x="60.55" y="396.35" width="10.10" height="60.95" fill="#0e4c82" stroke="#0a477c" stroke-width="0.7"/>
<line x1="65.60" y1="393.10" x2="65.60" y2="396.00" stroke="#0e4c82" stroke-width="1"/>
<line x1="63.10" y1="393.10" x2="68.10" y2="393.10" stroke="#0e4c82" stroke-width="1"/>
<rect x="82.25" y="398.35" width="10.10" height="58.95" fill="#3cb44a" stroke="#2aae3a" stroke-width="0.7"/>
<line x1="87.30" y1="394.50" x2="87.30" y2="398.00" stroke="#3cb44a" stroke-width="1"/>
<line x1="84.80" y1="394.50" x2="89.80" y2="394.50" stroke="#3cb44a" stroke-width="1"/>
<rect x="103.65" y="423.55" width="10.10" height="33.75" fill="#5b2870" stroke="#521a66" stroke-width="0.7"/>
<line x1="108.70" y1="414.90" x2="108.70" y2="423.20" stroke="#5b2870" stroke-width="1"/>
<line x1="106.20" y1="414.90" x2="111.20" y2="414.90" stroke="#5b2870" stroke-width="1"/>
<rect x="146.85" y="395.85" width="10.10" height="61.45" fill="#c8102e" stroke="#bd0020" stroke-width="0.7"/>
<line x1="151.90" y1="393.60" x2="151.90" y2="395.50" stroke="#c8102e" stroke-width="1"/>
<line x1="149.40" y1="393.60" x2="154.40" y2="393.60" stroke="#c8102e" stroke-width="1"/>
<rect x="168.45" y="397.35" width="10.10" height="59.95" fill="#0e4c82" stroke="#0a477c" stroke-width="0.7"/>
<line x1="173.50" y1="391.70" x2="173.50" y2="397.00" stroke="#0e4c82" stroke-width="1"/>
<line x1="171.00" y1="391.70" x2="176.00" y2="391.70" stroke="#0e4c82" stroke-width="1"/>
<rect x="189.85" y="399.85" width="10.10" height="57.45" fill="#3cb44a" stroke="#2aae3a" stroke-width="0.7"/>
<line x1="194.90" y1="395.70" x2="194.90" y2="399.50" stroke="#3cb44a" stroke-width="1"/>
<line x1="192.40" y1="395.70" x2="197.40" y2="395.70" stroke="#3cb44a" stroke-width="1"/>
<rect x="211.15" y="429.65" width="10.10" height="27.65" fill="#5b2870" stroke="#521a66" stroke-width="0.7"/>
<line x1="216.20" y1="417.50" x2="216.20" y2="429.30" stroke="#5b2870" stroke-width="1"/>
<line x1="213.70" y1="417.50" x2="218.70" y2="417.50" stroke="#5b2870" stroke-width="1"/>
<line x1="42.60" y1="389.20" x2="90.40" y2="389.20" stroke="#1a1a1a" stroke-width="1.25"/>
<text x="66.50" y="386.00" font-size="8" text-anchor="middle" fill="#1a1a1a" stroke="#1a1a1a" stroke-width="0.08">n.s.</text>
<line x1="91.00" y1="381.90" x2="110.00" y2="381.90" stroke="#1a1a1a" stroke-width="1.25"/>
<polygon points="100.50,375.75 101.06,377.13 102.54,377.24 101.40,378.19 101.76,379.64 100.50,378.85 99.24,379.64 99.60,378.19 98.46,377.24 99.94,377.13" fill="#1a1a1a"/>
<line x1="150.50" y1="388.50" x2="197.00" y2="388.50" stroke="#1a1a1a" stroke-width="1.25"/>
<text x="173.80" y="386.00" font-size="8" text-anchor="middle" fill="#1a1a1a" stroke="#1a1a1a" stroke-width="0.08">n.s.</text>
<line x1="197.00" y1="380.80" x2="217.50" y2="380.80" stroke="#1a1a1a" stroke-width="1.25"/>
<polygon points="207.25,374.65 207.81,376.03 209.29,376.14 208.15,377.09 208.51,378.54 207.25,377.75 205.99,378.54 206.35,377.09 205.21,376.14 206.69,376.03" fill="#1a1a1a"/>
<text x="33.70" y="465.20" font-size="7.4" textLength="18.7" lengthAdjust="spacingAndGlyphs" fill="#1a1a1a" stroke="#1a1a1a" stroke-width="0.04">DMSO</text>
<text x="55.00" y="465.20" font-size="7.4" textLength="24.4" lengthAdjust="spacingAndGlyphs" fill="#1a1a1a" stroke="#1a1a1a" stroke-width="0.04">BMS961</text>
<text x="82.70" y="465.20" font-size="7.4" textLength="9.1" lengthAdjust="spacingAndGlyphs" fill="#1a1a1a" stroke="#1a1a1a" stroke-width="0.04">Cfz</text>
<text x="95.50" y="465.20" font-size="7.4" textLength="27.0" lengthAdjust="spacingAndGlyphs" fill="#1a1a1a" stroke="#1a1a1a" stroke-width="0.04">BMS+Cfz</text>
<text x="141.30" y="465.20" font-size="7.4" textLength="18.7" lengthAdjust="spacingAndGlyphs" fill="#1a1a1a" stroke="#1a1a1a" stroke-width="0.04">DMSO</text>
<text x="162.50" y="465.20" font-size="7.4" textLength="23.0" lengthAdjust="spacingAndGlyphs" fill="#1a1a1a" stroke="#1a1a1a" stroke-width="0.04">BMS961</text>
<text x="190.00" y="465.20" font-size="7.4" textLength="8.8" lengthAdjust="spacingAndGlyphs" fill="#1a1a1a" stroke="#1a1a1a" stroke-width="0.04">Cfz</text>
<text x="202.50" y="465.20" font-size="7.4" textLength="27.5" lengthAdjust="spacingAndGlyphs" fill="#1a1a1a" stroke="#1a1a1a" stroke-width="0.04">BMS+Cfz</text>
<line x1="36.40" y1="467.60" x2="119.40" y2="467.60" stroke="#1a1a1a" stroke-width="1"/>
<line x1="145.00" y1="467.60" x2="227.00" y2="467.60" stroke="#1a1a1a" stroke-width="1"/>
<text x="77.40" y="476.80" font-size="8.8" text-anchor="middle" textLength="22" lengthAdjust="spacingAndGlyphs" fill="#1a1a1a" stroke="#1a1a1a" stroke-width="0.08">ARP-1</text>
<text x="185.70" y="476.80" font-size="8.8" text-anchor="middle" textLength="25" lengthAdjust="spacingAndGlyphs" fill="#1a1a1a" stroke="#1a1a1a" stroke-width="0.08">MM.1S</text>
<rect x="0.5" y="0.5" width="519" height="481" fill="none" stroke="#000" stroke-width="1.2"/>
</svg>
</body></html>
